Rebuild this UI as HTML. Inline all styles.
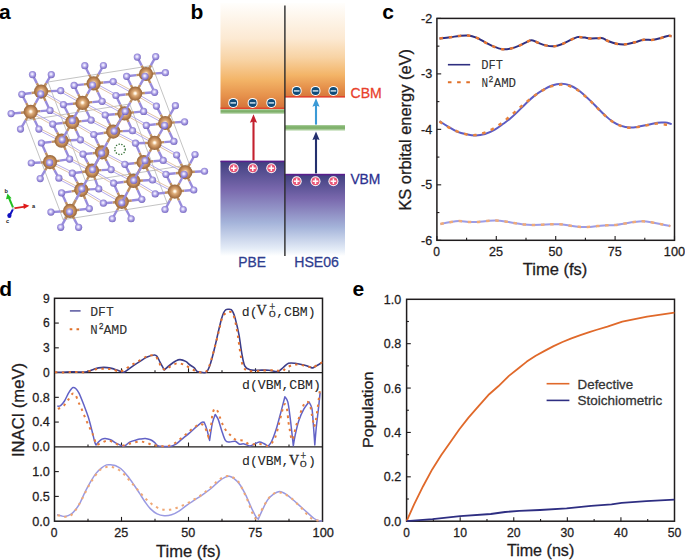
<!DOCTYPE html>
<html><head><meta charset="utf-8"><title>figure</title>
<style>html,body{margin:0;padding:0;background:#fff;width:685px;height:560px;overflow:hidden}svg{display:block}</style>
</head><body><svg width="685" height="560" viewBox="0 0 685 560">
<rect width="685" height="560" fill="#fff"/>
<defs><radialGradient id="gb" cx="0.5" cy="0.5" r="0.55" fx="0.5" fy="0.48"><stop offset="0" stop-color="#ffffff"/><stop offset="0.13" stop-color="#fff0da"/><stop offset="0.32" stop-color="#deae7c"/><stop offset="0.62" stop-color="#bd8654"/><stop offset="0.86" stop-color="#9c6a3e"/><stop offset="1" stop-color="#74502e"/></radialGradient><radialGradient id="gp" cx="0.46" cy="0.44" r="0.58"><stop offset="0" stop-color="#ffffff"/><stop offset="0.25" stop-color="#dcd6fb"/><stop offset="0.55" stop-color="#a89de2"/><stop offset="0.85" stop-color="#8476cc"/><stop offset="1" stop-color="#6a5ab4"/></radialGradient></defs>
<line x1="48.0" y1="82.0" x2="152.0" y2="65.5" stroke="#9a9a9a" stroke-width="0.6"/>
<line x1="25.7" y1="120.5" x2="129.7" y2="104.0" stroke="#9a9a9a" stroke-width="0.6"/>
<line x1="85.5" y1="181.2" x2="189.5" y2="164.7" stroke="#9a9a9a" stroke-width="0.6"/>
<line x1="63.2" y1="219.7" x2="167.2" y2="203.2" stroke="#9a9a9a" stroke-width="0.6"/>
<line x1="48.0" y1="82.0" x2="25.7" y2="120.5" stroke="#9a9a9a" stroke-width="0.6"/>
<line x1="152.0" y1="65.5" x2="129.7" y2="104.0" stroke="#9a9a9a" stroke-width="0.6"/>
<line x1="85.5" y1="181.2" x2="63.2" y2="219.7" stroke="#9a9a9a" stroke-width="0.6"/>
<line x1="189.5" y1="164.7" x2="167.2" y2="203.2" stroke="#9a9a9a" stroke-width="0.6"/>
<line x1="48.0" y1="82.0" x2="85.5" y2="181.2" stroke="#9a9a9a" stroke-width="0.6"/>
<line x1="152.0" y1="65.5" x2="189.5" y2="164.7" stroke="#9a9a9a" stroke-width="0.6"/>
<line x1="25.7" y1="120.5" x2="63.2" y2="219.7" stroke="#9a9a9a" stroke-width="0.6"/>
<line x1="129.7" y1="104.0" x2="167.2" y2="203.2" stroke="#9a9a9a" stroke-width="0.6"/>
<line x1="146.00" y1="74.00" x2="141.65" y2="65.55" stroke="#bd8e62" stroke-width="2.4"/>
<line x1="141.65" y1="65.55" x2="137.30" y2="57.10" stroke="#988cdc" stroke-width="2.4"/>
<line x1="146.00" y1="74.00" x2="150.85" y2="65.30" stroke="#bd8e62" stroke-width="2.4"/>
<line x1="150.85" y1="65.30" x2="155.70" y2="56.60" stroke="#988cdc" stroke-width="2.4"/>
<line x1="146.00" y1="74.00" x2="136.30" y2="75.15" stroke="#bd8e62" stroke-width="2.4"/>
<line x1="136.30" y1="75.15" x2="126.60" y2="76.30" stroke="#988cdc" stroke-width="2.4"/>
<line x1="146.00" y1="74.00" x2="155.70" y2="73.35" stroke="#bd8e62" stroke-width="2.4"/>
<line x1="155.70" y1="73.35" x2="165.40" y2="72.70" stroke="#988cdc" stroke-width="2.4"/>
<line x1="146.00" y1="74.00" x2="150.30" y2="83.15" stroke="#bd8e62" stroke-width="2.4"/>
<line x1="150.30" y1="83.15" x2="154.60" y2="92.30" stroke="#988cdc" stroke-width="2.4"/>
<line x1="93.60" y1="83.40" x2="89.20" y2="74.55" stroke="#bd8e62" stroke-width="2.4"/>
<line x1="89.20" y1="74.55" x2="84.80" y2="65.70" stroke="#988cdc" stroke-width="2.4"/>
<line x1="93.60" y1="83.40" x2="83.85" y2="84.40" stroke="#bd8e62" stroke-width="2.4"/>
<line x1="83.85" y1="84.40" x2="74.10" y2="85.40" stroke="#988cdc" stroke-width="2.4"/>
<line x1="93.60" y1="83.40" x2="98.50" y2="74.45" stroke="#bd8e62" stroke-width="2.4"/>
<line x1="98.50" y1="74.45" x2="103.40" y2="65.50" stroke="#988cdc" stroke-width="2.4"/>
<line x1="93.60" y1="83.40" x2="103.40" y2="82.50" stroke="#bd8e62" stroke-width="2.4"/>
<line x1="103.40" y1="82.50" x2="113.20" y2="81.60" stroke="#988cdc" stroke-width="2.4"/>
<line x1="94.05" y1="82.56" x2="116.35" y2="94.66" stroke="#ada2ea" stroke-width="0.9"/>
<line x1="93.15" y1="84.24" x2="115.45" y2="96.34" stroke="#dcbca0" stroke-width="0.9"/>
<line x1="93.60" y1="83.40" x2="97.85" y2="92.35" stroke="#bd8e62" stroke-width="2.4"/>
<line x1="97.85" y1="92.35" x2="102.10" y2="101.30" stroke="#988cdc" stroke-width="2.4"/>
<line x1="41.10" y1="91.60" x2="36.80" y2="83.10" stroke="#bd8e62" stroke-width="2.4"/>
<line x1="36.80" y1="83.10" x2="32.50" y2="74.60" stroke="#988cdc" stroke-width="2.4"/>
<line x1="41.10" y1="91.60" x2="46.20" y2="83.10" stroke="#bd8e62" stroke-width="2.4"/>
<line x1="46.20" y1="83.10" x2="51.30" y2="74.60" stroke="#988cdc" stroke-width="2.4"/>
<line x1="41.10" y1="91.60" x2="31.45" y2="92.95" stroke="#bd8e62" stroke-width="2.4"/>
<line x1="31.45" y1="92.95" x2="21.80" y2="94.30" stroke="#988cdc" stroke-width="2.4"/>
<line x1="41.10" y1="91.60" x2="50.90" y2="91.15" stroke="#bd8e62" stroke-width="2.4"/>
<line x1="50.90" y1="91.15" x2="60.70" y2="90.70" stroke="#988cdc" stroke-width="2.4"/>
<line x1="41.10" y1="91.60" x2="45.55" y2="101.00" stroke="#bd8e62" stroke-width="2.4"/>
<line x1="45.55" y1="101.00" x2="50.00" y2="110.40" stroke="#988cdc" stroke-width="2.4"/>
<line x1="41.58" y1="90.78" x2="63.88" y2="103.78" stroke="#ada2ea" stroke-width="0.9"/>
<line x1="40.62" y1="92.42" x2="62.92" y2="105.42" stroke="#dcbca0" stroke-width="0.9"/>
<line x1="135.20" y1="93.60" x2="130.90" y2="84.95" stroke="#bd8e62" stroke-width="2.4"/>
<line x1="130.90" y1="84.95" x2="126.60" y2="76.30" stroke="#988cdc" stroke-width="2.4"/>
<line x1="135.20" y1="93.60" x2="140.10" y2="84.95" stroke="#bd8e62" stroke-width="2.4"/>
<line x1="134.75" y1="94.43" x2="112.75" y2="82.43" stroke="#ada2ea" stroke-width="0.9"/>
<line x1="135.65" y1="92.77" x2="113.65" y2="80.77" stroke="#dcbca0" stroke-width="0.9"/>
<line x1="135.20" y1="93.60" x2="125.55" y2="94.55" stroke="#bd8e62" stroke-width="2.4"/>
<line x1="125.55" y1="94.55" x2="115.90" y2="95.50" stroke="#988cdc" stroke-width="2.4"/>
<line x1="135.20" y1="93.60" x2="144.90" y2="92.95" stroke="#bd8e62" stroke-width="2.4"/>
<line x1="144.90" y1="92.95" x2="154.60" y2="92.30" stroke="#988cdc" stroke-width="2.4"/>
<line x1="135.68" y1="92.78" x2="156.88" y2="105.28" stroke="#ada2ea" stroke-width="0.9"/>
<line x1="134.72" y1="94.42" x2="155.92" y2="106.92" stroke="#dcbca0" stroke-width="0.9"/>
<line x1="135.20" y1="93.60" x2="139.40" y2="102.50" stroke="#bd8e62" stroke-width="2.4"/>
<line x1="139.40" y1="102.50" x2="143.60" y2="111.40" stroke="#988cdc" stroke-width="2.4"/>
<line x1="135.20" y1="93.60" x2="130.20" y2="102.50" stroke="#bd8e62" stroke-width="2.4"/>
<line x1="82.04" y1="103.73" x2="60.24" y2="91.53" stroke="#ada2ea" stroke-width="0.9"/>
<line x1="82.96" y1="102.07" x2="61.16" y2="89.87" stroke="#dcbca0" stroke-width="0.9"/>
<line x1="82.50" y1="102.90" x2="77.40" y2="111.80" stroke="#bd8e62" stroke-width="2.4"/>
<line x1="82.50" y1="102.90" x2="78.30" y2="94.15" stroke="#bd8e62" stroke-width="2.4"/>
<line x1="78.30" y1="94.15" x2="74.10" y2="85.40" stroke="#988cdc" stroke-width="2.4"/>
<line x1="82.50" y1="102.90" x2="87.50" y2="93.95" stroke="#bd8e62" stroke-width="2.4"/>
<line x1="82.50" y1="102.90" x2="72.95" y2="103.75" stroke="#bd8e62" stroke-width="2.4"/>
<line x1="72.95" y1="103.75" x2="63.40" y2="104.60" stroke="#988cdc" stroke-width="2.4"/>
<line x1="82.50" y1="102.90" x2="86.80" y2="111.55" stroke="#bd8e62" stroke-width="2.4"/>
<line x1="86.80" y1="111.55" x2="91.10" y2="120.20" stroke="#988cdc" stroke-width="2.4"/>
<line x1="82.50" y1="102.90" x2="92.30" y2="102.10" stroke="#bd8e62" stroke-width="2.4"/>
<line x1="92.30" y1="102.10" x2="102.10" y2="101.30" stroke="#988cdc" stroke-width="2.4"/>
<line x1="82.95" y1="102.06" x2="105.65" y2="114.16" stroke="#ada2ea" stroke-width="0.9"/>
<line x1="82.05" y1="103.74" x2="104.75" y2="115.84" stroke="#dcbca0" stroke-width="0.9"/>
<line x1="30.70" y1="111.80" x2="26.25" y2="103.05" stroke="#bd8e62" stroke-width="2.4"/>
<line x1="26.25" y1="103.05" x2="21.80" y2="94.30" stroke="#988cdc" stroke-width="2.4"/>
<line x1="30.70" y1="111.80" x2="35.70" y2="102.85" stroke="#bd8e62" stroke-width="2.4"/>
<line x1="30.70" y1="111.80" x2="20.90" y2="112.70" stroke="#bd8e62" stroke-width="2.4"/>
<line x1="20.90" y1="112.70" x2="11.10" y2="113.60" stroke="#988cdc" stroke-width="2.4"/>
<line x1="30.70" y1="111.80" x2="40.35" y2="111.10" stroke="#bd8e62" stroke-width="2.4"/>
<line x1="40.35" y1="111.10" x2="50.00" y2="110.40" stroke="#988cdc" stroke-width="2.4"/>
<line x1="30.70" y1="111.80" x2="25.60" y2="120.45" stroke="#bd8e62" stroke-width="2.4"/>
<line x1="25.60" y1="120.45" x2="20.50" y2="129.10" stroke="#988cdc" stroke-width="2.4"/>
<line x1="30.70" y1="111.80" x2="34.80" y2="120.45" stroke="#bd8e62" stroke-width="2.4"/>
<line x1="34.80" y1="120.45" x2="38.90" y2="129.10" stroke="#988cdc" stroke-width="2.4"/>
<line x1="31.16" y1="110.97" x2="53.16" y2="123.27" stroke="#ada2ea" stroke-width="0.9"/>
<line x1="30.24" y1="112.63" x2="52.24" y2="124.93" stroke="#dcbca0" stroke-width="0.9"/>
<line x1="124.50" y1="113.40" x2="120.20" y2="104.45" stroke="#bd8e62" stroke-width="2.4"/>
<line x1="120.20" y1="104.45" x2="115.90" y2="95.50" stroke="#988cdc" stroke-width="2.4"/>
<line x1="124.05" y1="114.24" x2="101.65" y2="102.14" stroke="#ada2ea" stroke-width="0.9"/>
<line x1="124.95" y1="112.56" x2="102.55" y2="100.46" stroke="#dcbca0" stroke-width="0.9"/>
<line x1="124.50" y1="113.40" x2="134.05" y2="112.40" stroke="#bd8e62" stroke-width="2.4"/>
<line x1="134.05" y1="112.40" x2="143.60" y2="111.40" stroke="#988cdc" stroke-width="2.4"/>
<line x1="124.50" y1="113.40" x2="114.85" y2="114.20" stroke="#bd8e62" stroke-width="2.4"/>
<line x1="114.85" y1="114.20" x2="105.20" y2="115.00" stroke="#988cdc" stroke-width="2.4"/>
<line x1="124.96" y1="112.57" x2="146.76" y2="124.57" stroke="#ada2ea" stroke-width="0.9"/>
<line x1="124.04" y1="114.23" x2="145.84" y2="126.23" stroke="#dcbca0" stroke-width="0.9"/>
<line x1="124.50" y1="113.40" x2="128.50" y2="122.05" stroke="#bd8e62" stroke-width="2.4"/>
<line x1="128.50" y1="122.05" x2="132.50" y2="130.70" stroke="#988cdc" stroke-width="2.4"/>
<line x1="124.50" y1="113.40" x2="119.30" y2="122.25" stroke="#bd8e62" stroke-width="2.4"/>
<line x1="71.86" y1="122.84" x2="49.56" y2="111.24" stroke="#ada2ea" stroke-width="0.9"/>
<line x1="72.74" y1="121.16" x2="50.44" y2="109.56" stroke="#dcbca0" stroke-width="0.9"/>
<line x1="72.30" y1="122.00" x2="62.50" y2="123.05" stroke="#bd8e62" stroke-width="2.4"/>
<line x1="62.50" y1="123.05" x2="52.70" y2="124.10" stroke="#988cdc" stroke-width="2.4"/>
<line x1="72.30" y1="122.00" x2="67.85" y2="113.30" stroke="#bd8e62" stroke-width="2.4"/>
<line x1="67.85" y1="113.30" x2="63.40" y2="104.60" stroke="#988cdc" stroke-width="2.4"/>
<line x1="72.30" y1="122.00" x2="81.70" y2="121.10" stroke="#bd8e62" stroke-width="2.4"/>
<line x1="81.70" y1="121.10" x2="91.10" y2="120.20" stroke="#988cdc" stroke-width="2.4"/>
<line x1="72.30" y1="122.00" x2="67.20" y2="130.90" stroke="#bd8e62" stroke-width="2.4"/>
<line x1="72.30" y1="122.00" x2="76.35" y2="130.90" stroke="#bd8e62" stroke-width="2.4"/>
<line x1="76.35" y1="130.90" x2="80.40" y2="139.80" stroke="#988cdc" stroke-width="2.4"/>
<line x1="72.78" y1="121.18" x2="94.23" y2="133.68" stroke="#ada2ea" stroke-width="0.9"/>
<line x1="71.82" y1="122.82" x2="93.27" y2="135.32" stroke="#dcbca0" stroke-width="0.9"/>
<line x1="165.20" y1="123.00" x2="160.80" y2="114.55" stroke="#bd8e62" stroke-width="2.4"/>
<line x1="160.80" y1="114.55" x2="156.40" y2="106.10" stroke="#988cdc" stroke-width="2.4"/>
<line x1="164.75" y1="123.84" x2="143.15" y2="112.24" stroke="#ada2ea" stroke-width="0.9"/>
<line x1="165.65" y1="122.16" x2="144.05" y2="110.56" stroke="#dcbca0" stroke-width="0.9"/>
<line x1="165.20" y1="123.00" x2="170.30" y2="114.35" stroke="#bd8e62" stroke-width="2.4"/>
<line x1="170.30" y1="114.35" x2="175.40" y2="105.70" stroke="#988cdc" stroke-width="2.4"/>
<line x1="165.20" y1="123.00" x2="155.75" y2="124.20" stroke="#bd8e62" stroke-width="2.4"/>
<line x1="155.75" y1="124.20" x2="146.30" y2="125.40" stroke="#988cdc" stroke-width="2.4"/>
<line x1="165.20" y1="123.00" x2="174.90" y2="122.40" stroke="#bd8e62" stroke-width="2.4"/>
<line x1="174.90" y1="122.40" x2="184.60" y2="121.80" stroke="#988cdc" stroke-width="2.4"/>
<line x1="165.20" y1="123.00" x2="169.55" y2="132.20" stroke="#bd8e62" stroke-width="2.4"/>
<line x1="169.55" y1="132.20" x2="173.90" y2="141.40" stroke="#988cdc" stroke-width="2.4"/>
<line x1="112.76" y1="132.44" x2="90.66" y2="121.04" stroke="#ada2ea" stroke-width="0.9"/>
<line x1="113.64" y1="130.76" x2="91.54" y2="119.36" stroke="#dcbca0" stroke-width="0.9"/>
<line x1="113.20" y1="131.60" x2="103.47" y2="133.05" stroke="#bd8e62" stroke-width="2.4"/>
<line x1="103.47" y1="133.05" x2="93.75" y2="134.50" stroke="#988cdc" stroke-width="2.4"/>
<line x1="113.20" y1="131.60" x2="119.20" y2="121.50" stroke="#bd8e62" stroke-width="2.4"/>
<line x1="113.20" y1="131.60" x2="109.20" y2="123.30" stroke="#bd8e62" stroke-width="2.4"/>
<line x1="109.20" y1="123.30" x2="105.20" y2="115.00" stroke="#988cdc" stroke-width="2.4"/>
<line x1="113.20" y1="131.60" x2="122.85" y2="131.15" stroke="#bd8e62" stroke-width="2.4"/>
<line x1="122.85" y1="131.15" x2="132.50" y2="130.70" stroke="#988cdc" stroke-width="2.4"/>
<line x1="113.64" y1="130.76" x2="135.94" y2="142.36" stroke="#ada2ea" stroke-width="0.9"/>
<line x1="112.76" y1="132.44" x2="135.06" y2="144.04" stroke="#dcbca0" stroke-width="0.9"/>
<line x1="113.20" y1="131.60" x2="107.40" y2="142.40" stroke="#bd8e62" stroke-width="2.4"/>
<line x1="61.17" y1="141.55" x2="38.47" y2="129.95" stroke="#ada2ea" stroke-width="0.9"/>
<line x1="62.03" y1="139.85" x2="39.33" y2="128.25" stroke="#dcbca0" stroke-width="0.9"/>
<line x1="61.60" y1="140.70" x2="57.15" y2="132.40" stroke="#bd8e62" stroke-width="2.4"/>
<line x1="57.15" y1="132.40" x2="52.70" y2="124.10" stroke="#988cdc" stroke-width="2.4"/>
<line x1="61.60" y1="140.70" x2="51.50" y2="141.85" stroke="#bd8e62" stroke-width="2.4"/>
<line x1="51.50" y1="141.85" x2="41.40" y2="143.00" stroke="#988cdc" stroke-width="2.4"/>
<line x1="61.60" y1="140.70" x2="71.00" y2="140.25" stroke="#bd8e62" stroke-width="2.4"/>
<line x1="71.00" y1="140.25" x2="80.40" y2="139.80" stroke="#988cdc" stroke-width="2.4"/>
<line x1="61.60" y1="140.70" x2="65.60" y2="149.90" stroke="#bd8e62" stroke-width="2.4"/>
<line x1="65.60" y1="149.90" x2="69.60" y2="159.10" stroke="#988cdc" stroke-width="2.4"/>
<line x1="62.10" y1="139.89" x2="83.50" y2="153.29" stroke="#ada2ea" stroke-width="0.9"/>
<line x1="61.10" y1="141.51" x2="82.50" y2="154.91" stroke="#dcbca0" stroke-width="0.9"/>
<line x1="154.60" y1="142.90" x2="150.45" y2="134.15" stroke="#bd8e62" stroke-width="2.4"/>
<line x1="150.45" y1="134.15" x2="146.30" y2="125.40" stroke="#988cdc" stroke-width="2.4"/>
<line x1="154.60" y1="142.90" x2="159.60" y2="134.15" stroke="#bd8e62" stroke-width="2.4"/>
<line x1="154.14" y1="143.73" x2="132.04" y2="131.53" stroke="#ada2ea" stroke-width="0.9"/>
<line x1="155.06" y1="142.07" x2="132.96" y2="129.87" stroke="#dcbca0" stroke-width="0.9"/>
<line x1="154.60" y1="142.90" x2="164.25" y2="142.15" stroke="#bd8e62" stroke-width="2.4"/>
<line x1="164.25" y1="142.15" x2="173.90" y2="141.40" stroke="#988cdc" stroke-width="2.4"/>
<line x1="154.60" y1="142.90" x2="145.05" y2="143.05" stroke="#bd8e62" stroke-width="2.4"/>
<line x1="145.05" y1="143.05" x2="135.50" y2="143.20" stroke="#988cdc" stroke-width="2.4"/>
<line x1="154.60" y1="142.90" x2="149.80" y2="151.80" stroke="#bd8e62" stroke-width="2.4"/>
<line x1="154.60" y1="142.90" x2="158.90" y2="151.65" stroke="#bd8e62" stroke-width="2.4"/>
<line x1="158.90" y1="151.65" x2="163.20" y2="160.40" stroke="#988cdc" stroke-width="2.4"/>
<line x1="155.06" y1="142.07" x2="177.06" y2="154.17" stroke="#ada2ea" stroke-width="0.9"/>
<line x1="154.14" y1="143.73" x2="176.14" y2="155.83" stroke="#dcbca0" stroke-width="0.9"/>
<line x1="101.63" y1="153.12" x2="79.93" y2="140.62" stroke="#ada2ea" stroke-width="0.9"/>
<line x1="102.57" y1="151.48" x2="80.87" y2="138.98" stroke="#dcbca0" stroke-width="0.9"/>
<line x1="102.10" y1="152.30" x2="97.92" y2="143.40" stroke="#bd8e62" stroke-width="2.4"/>
<line x1="97.92" y1="143.40" x2="93.75" y2="134.50" stroke="#988cdc" stroke-width="2.4"/>
<line x1="102.10" y1="152.30" x2="92.55" y2="153.20" stroke="#bd8e62" stroke-width="2.4"/>
<line x1="92.55" y1="153.20" x2="83.00" y2="154.10" stroke="#988cdc" stroke-width="2.4"/>
<line x1="102.10" y1="152.30" x2="97.30" y2="160.95" stroke="#bd8e62" stroke-width="2.4"/>
<line x1="102.54" y1="151.46" x2="125.24" y2="163.46" stroke="#ada2ea" stroke-width="0.9"/>
<line x1="101.66" y1="153.14" x2="124.36" y2="165.14" stroke="#dcbca0" stroke-width="0.9"/>
<line x1="102.10" y1="152.30" x2="106.60" y2="160.95" stroke="#bd8e62" stroke-width="2.4"/>
<line x1="106.60" y1="160.95" x2="111.10" y2="169.60" stroke="#988cdc" stroke-width="2.4"/>
<line x1="50.00" y1="162.10" x2="45.70" y2="152.55" stroke="#bd8e62" stroke-width="2.4"/>
<line x1="45.70" y1="152.55" x2="41.40" y2="143.00" stroke="#988cdc" stroke-width="2.4"/>
<line x1="50.00" y1="162.10" x2="40.62" y2="162.55" stroke="#bd8e62" stroke-width="2.4"/>
<line x1="40.62" y1="162.55" x2="31.25" y2="163.00" stroke="#988cdc" stroke-width="2.4"/>
<line x1="50.00" y1="162.10" x2="59.80" y2="160.60" stroke="#bd8e62" stroke-width="2.4"/>
<line x1="59.80" y1="160.60" x2="69.60" y2="159.10" stroke="#988cdc" stroke-width="2.4"/>
<line x1="50.00" y1="162.10" x2="45.10" y2="170.35" stroke="#bd8e62" stroke-width="2.4"/>
<line x1="45.10" y1="170.35" x2="40.20" y2="178.60" stroke="#988cdc" stroke-width="2.4"/>
<line x1="50.00" y1="162.10" x2="54.45" y2="170.15" stroke="#bd8e62" stroke-width="2.4"/>
<line x1="54.45" y1="170.15" x2="58.90" y2="178.20" stroke="#988cdc" stroke-width="2.4"/>
<line x1="50.42" y1="161.25" x2="72.72" y2="172.35" stroke="#ada2ea" stroke-width="0.9"/>
<line x1="49.58" y1="162.95" x2="71.88" y2="174.05" stroke="#dcbca0" stroke-width="0.9"/>
<line x1="143.60" y1="162.10" x2="139.55" y2="152.65" stroke="#bd8e62" stroke-width="2.4"/>
<line x1="139.55" y1="152.65" x2="135.50" y2="143.20" stroke="#988cdc" stroke-width="2.4"/>
<line x1="143.60" y1="162.10" x2="134.20" y2="163.20" stroke="#bd8e62" stroke-width="2.4"/>
<line x1="134.20" y1="163.20" x2="124.80" y2="164.30" stroke="#988cdc" stroke-width="2.4"/>
<line x1="143.60" y1="162.10" x2="153.40" y2="161.25" stroke="#bd8e62" stroke-width="2.4"/>
<line x1="153.40" y1="161.25" x2="163.20" y2="160.40" stroke="#988cdc" stroke-width="2.4"/>
<line x1="143.60" y1="162.10" x2="138.68" y2="171.25" stroke="#bd8e62" stroke-width="2.4"/>
<line x1="143.60" y1="162.10" x2="148.05" y2="171.05" stroke="#bd8e62" stroke-width="2.4"/>
<line x1="148.05" y1="171.05" x2="152.50" y2="180.00" stroke="#988cdc" stroke-width="2.4"/>
<line x1="144.06" y1="161.27" x2="166.36" y2="173.47" stroke="#ada2ea" stroke-width="0.9"/>
<line x1="143.14" y1="162.93" x2="165.44" y2="175.13" stroke="#dcbca0" stroke-width="0.9"/>
<line x1="91.56" y1="171.54" x2="69.16" y2="159.94" stroke="#ada2ea" stroke-width="0.9"/>
<line x1="92.44" y1="169.86" x2="70.04" y2="158.26" stroke="#dcbca0" stroke-width="0.9"/>
<line x1="92.00" y1="170.70" x2="87.50" y2="162.40" stroke="#bd8e62" stroke-width="2.4"/>
<line x1="87.50" y1="162.40" x2="83.00" y2="154.10" stroke="#988cdc" stroke-width="2.4"/>
<line x1="92.00" y1="170.70" x2="82.15" y2="171.95" stroke="#bd8e62" stroke-width="2.4"/>
<line x1="82.15" y1="171.95" x2="72.30" y2="173.20" stroke="#988cdc" stroke-width="2.4"/>
<line x1="92.00" y1="170.70" x2="86.90" y2="179.80" stroke="#bd8e62" stroke-width="2.4"/>
<line x1="92.00" y1="170.70" x2="95.38" y2="179.80" stroke="#bd8e62" stroke-width="2.4"/>
<line x1="95.38" y1="179.80" x2="98.75" y2="188.90" stroke="#988cdc" stroke-width="2.4"/>
<line x1="92.00" y1="170.70" x2="96.80" y2="161.95" stroke="#bd8e62" stroke-width="2.4"/>
<line x1="92.00" y1="170.70" x2="101.55" y2="170.15" stroke="#bd8e62" stroke-width="2.4"/>
<line x1="101.55" y1="170.15" x2="111.10" y2="169.60" stroke="#988cdc" stroke-width="2.4"/>
<line x1="92.48" y1="169.88" x2="114.08" y2="182.38" stroke="#ada2ea" stroke-width="0.9"/>
<line x1="91.52" y1="171.52" x2="113.12" y2="184.02" stroke="#dcbca0" stroke-width="0.9"/>
<line x1="184.85" y1="173.14" x2="162.75" y2="161.24" stroke="#ada2ea" stroke-width="0.9"/>
<line x1="185.75" y1="171.46" x2="163.65" y2="159.56" stroke="#dcbca0" stroke-width="0.9"/>
<line x1="185.30" y1="172.30" x2="180.95" y2="163.65" stroke="#bd8e62" stroke-width="2.4"/>
<line x1="180.95" y1="163.65" x2="176.60" y2="155.00" stroke="#988cdc" stroke-width="2.4"/>
<line x1="185.30" y1="172.30" x2="175.60" y2="173.30" stroke="#bd8e62" stroke-width="2.4"/>
<line x1="175.60" y1="173.30" x2="165.90" y2="174.30" stroke="#988cdc" stroke-width="2.4"/>
<line x1="185.30" y1="172.30" x2="190.15" y2="163.40" stroke="#bd8e62" stroke-width="2.4"/>
<line x1="190.15" y1="163.40" x2="195.00" y2="154.50" stroke="#988cdc" stroke-width="2.4"/>
<line x1="185.30" y1="172.30" x2="194.90" y2="171.78" stroke="#bd8e62" stroke-width="2.4"/>
<line x1="194.90" y1="171.78" x2="204.50" y2="171.25" stroke="#988cdc" stroke-width="2.4"/>
<line x1="185.30" y1="172.30" x2="189.53" y2="181.15" stroke="#bd8e62" stroke-width="2.4"/>
<line x1="189.53" y1="181.15" x2="193.75" y2="190.00" stroke="#988cdc" stroke-width="2.4"/>
<line x1="133.40" y1="180.90" x2="129.10" y2="172.60" stroke="#bd8e62" stroke-width="2.4"/>
<line x1="129.10" y1="172.60" x2="124.80" y2="164.30" stroke="#988cdc" stroke-width="2.4"/>
<line x1="132.97" y1="181.75" x2="110.67" y2="170.45" stroke="#ada2ea" stroke-width="0.9"/>
<line x1="133.83" y1="180.05" x2="111.53" y2="168.75" stroke="#dcbca0" stroke-width="0.9"/>
<line x1="133.40" y1="180.90" x2="139.20" y2="170.80" stroke="#bd8e62" stroke-width="2.4"/>
<line x1="133.40" y1="180.90" x2="123.50" y2="182.05" stroke="#bd8e62" stroke-width="2.4"/>
<line x1="123.50" y1="182.05" x2="113.60" y2="183.20" stroke="#988cdc" stroke-width="2.4"/>
<line x1="133.40" y1="180.90" x2="142.95" y2="180.45" stroke="#bd8e62" stroke-width="2.4"/>
<line x1="142.95" y1="180.45" x2="152.50" y2="180.00" stroke="#988cdc" stroke-width="2.4"/>
<line x1="133.40" y1="180.90" x2="127.60" y2="191.90" stroke="#bd8e62" stroke-width="2.4"/>
<line x1="133.40" y1="180.90" x2="137.60" y2="190.10" stroke="#bd8e62" stroke-width="2.4"/>
<line x1="137.60" y1="190.10" x2="141.80" y2="199.30" stroke="#988cdc" stroke-width="2.4"/>
<line x1="133.89" y1="180.08" x2="155.69" y2="193.08" stroke="#ada2ea" stroke-width="0.9"/>
<line x1="132.91" y1="181.72" x2="154.71" y2="194.72" stroke="#dcbca0" stroke-width="0.9"/>
<line x1="80.86" y1="190.64" x2="58.46" y2="179.04" stroke="#ada2ea" stroke-width="0.9"/>
<line x1="81.74" y1="188.96" x2="59.34" y2="177.36" stroke="#dcbca0" stroke-width="0.9"/>
<line x1="81.30" y1="189.80" x2="76.80" y2="181.50" stroke="#bd8e62" stroke-width="2.4"/>
<line x1="76.80" y1="181.50" x2="72.30" y2="173.20" stroke="#988cdc" stroke-width="2.4"/>
<line x1="81.30" y1="189.80" x2="71.45" y2="191.35" stroke="#bd8e62" stroke-width="2.4"/>
<line x1="71.45" y1="191.35" x2="61.60" y2="192.90" stroke="#988cdc" stroke-width="2.4"/>
<line x1="81.30" y1="189.80" x2="90.03" y2="189.35" stroke="#bd8e62" stroke-width="2.4"/>
<line x1="90.03" y1="189.35" x2="98.75" y2="188.90" stroke="#988cdc" stroke-width="2.4"/>
<line x1="81.30" y1="189.80" x2="85.30" y2="199.20" stroke="#bd8e62" stroke-width="2.4"/>
<line x1="85.30" y1="199.20" x2="89.30" y2="208.60" stroke="#988cdc" stroke-width="2.4"/>
<line x1="81.79" y1="188.99" x2="103.89" y2="202.39" stroke="#ada2ea" stroke-width="0.9"/>
<line x1="80.81" y1="190.61" x2="102.91" y2="204.01" stroke="#dcbca0" stroke-width="0.9"/>
<line x1="174.36" y1="192.44" x2="152.06" y2="180.84" stroke="#ada2ea" stroke-width="0.9"/>
<line x1="175.24" y1="190.76" x2="152.94" y2="179.16" stroke="#dcbca0" stroke-width="0.9"/>
<line x1="174.80" y1="191.60" x2="170.35" y2="182.95" stroke="#bd8e62" stroke-width="2.4"/>
<line x1="170.35" y1="182.95" x2="165.90" y2="174.30" stroke="#988cdc" stroke-width="2.4"/>
<line x1="174.80" y1="191.60" x2="179.45" y2="182.95" stroke="#bd8e62" stroke-width="2.4"/>
<line x1="174.80" y1="191.60" x2="165.00" y2="192.75" stroke="#bd8e62" stroke-width="2.4"/>
<line x1="165.00" y1="192.75" x2="155.20" y2="193.90" stroke="#988cdc" stroke-width="2.4"/>
<line x1="174.80" y1="191.60" x2="169.90" y2="200.55" stroke="#bd8e62" stroke-width="2.4"/>
<line x1="169.90" y1="200.55" x2="165.00" y2="209.50" stroke="#988cdc" stroke-width="2.4"/>
<line x1="174.80" y1="191.60" x2="179.00" y2="200.55" stroke="#bd8e62" stroke-width="2.4"/>
<line x1="179.00" y1="200.55" x2="183.20" y2="209.50" stroke="#988cdc" stroke-width="2.4"/>
<line x1="174.80" y1="191.60" x2="184.28" y2="190.80" stroke="#bd8e62" stroke-width="2.4"/>
<line x1="184.28" y1="190.80" x2="193.75" y2="190.00" stroke="#988cdc" stroke-width="2.4"/>
<line x1="121.34" y1="202.63" x2="98.29" y2="189.73" stroke="#ada2ea" stroke-width="0.9"/>
<line x1="122.26" y1="200.97" x2="99.21" y2="188.07" stroke="#dcbca0" stroke-width="0.9"/>
<line x1="121.80" y1="201.80" x2="117.70" y2="192.50" stroke="#bd8e62" stroke-width="2.4"/>
<line x1="117.70" y1="192.50" x2="113.60" y2="183.20" stroke="#988cdc" stroke-width="2.4"/>
<line x1="121.80" y1="201.80" x2="112.60" y2="202.50" stroke="#bd8e62" stroke-width="2.4"/>
<line x1="112.60" y1="202.50" x2="103.40" y2="203.20" stroke="#988cdc" stroke-width="2.4"/>
<line x1="121.80" y1="201.80" x2="131.80" y2="200.55" stroke="#bd8e62" stroke-width="2.4"/>
<line x1="131.80" y1="200.55" x2="141.80" y2="199.30" stroke="#988cdc" stroke-width="2.4"/>
<line x1="121.80" y1="201.80" x2="117.05" y2="210.28" stroke="#bd8e62" stroke-width="2.4"/>
<line x1="117.05" y1="210.28" x2="112.30" y2="218.75" stroke="#988cdc" stroke-width="2.4"/>
<line x1="121.80" y1="201.80" x2="126.45" y2="210.28" stroke="#bd8e62" stroke-width="2.4"/>
<line x1="126.45" y1="210.28" x2="131.10" y2="218.75" stroke="#988cdc" stroke-width="2.4"/>
<line x1="70.00" y1="210.90" x2="65.80" y2="201.90" stroke="#bd8e62" stroke-width="2.4"/>
<line x1="65.80" y1="201.90" x2="61.60" y2="192.90" stroke="#988cdc" stroke-width="2.4"/>
<line x1="70.00" y1="210.90" x2="75.90" y2="199.90" stroke="#bd8e62" stroke-width="2.4"/>
<line x1="70.00" y1="210.90" x2="60.45" y2="211.50" stroke="#bd8e62" stroke-width="2.4"/>
<line x1="60.45" y1="211.50" x2="50.90" y2="212.10" stroke="#988cdc" stroke-width="2.4"/>
<line x1="70.00" y1="210.90" x2="79.65" y2="209.75" stroke="#bd8e62" stroke-width="2.4"/>
<line x1="79.65" y1="209.75" x2="89.30" y2="208.60" stroke="#988cdc" stroke-width="2.4"/>
<line x1="70.00" y1="210.90" x2="65.35" y2="219.10" stroke="#bd8e62" stroke-width="2.4"/>
<line x1="65.35" y1="219.10" x2="60.70" y2="227.30" stroke="#988cdc" stroke-width="2.4"/>
<line x1="70.00" y1="210.90" x2="74.30" y2="219.10" stroke="#bd8e62" stroke-width="2.4"/>
<line x1="74.30" y1="219.10" x2="78.60" y2="227.30" stroke="#988cdc" stroke-width="2.4"/>
<circle cx="32.50" cy="74.60" r="3.6" fill="url(#gp)"/>
<circle cx="51.30" cy="74.60" r="3.6" fill="url(#gp)"/>
<circle cx="21.80" cy="94.30" r="3.6" fill="url(#gp)"/>
<circle cx="60.70" cy="90.70" r="3.6" fill="url(#gp)"/>
<circle cx="11.10" cy="113.60" r="3.6" fill="url(#gp)"/>
<circle cx="50.00" cy="110.40" r="3.6" fill="url(#gp)"/>
<circle cx="20.50" cy="129.10" r="3.6" fill="url(#gp)"/>
<circle cx="38.90" cy="129.10" r="3.6" fill="url(#gp)"/>
<circle cx="52.70" cy="124.10" r="3.6" fill="url(#gp)"/>
<circle cx="84.80" cy="65.70" r="3.6" fill="url(#gp)"/>
<circle cx="74.10" cy="85.40" r="3.6" fill="url(#gp)"/>
<circle cx="63.40" cy="104.60" r="3.6" fill="url(#gp)"/>
<circle cx="91.10" cy="120.20" r="3.6" fill="url(#gp)"/>
<circle cx="41.40" cy="143.00" r="3.6" fill="url(#gp)"/>
<circle cx="80.40" cy="139.80" r="3.6" fill="url(#gp)"/>
<circle cx="93.75" cy="134.50" r="3.6" fill="url(#gp)"/>
<circle cx="103.40" cy="65.50" r="3.6" fill="url(#gp)"/>
<circle cx="137.30" cy="57.10" r="3.6" fill="url(#gp)"/>
<circle cx="155.70" cy="56.60" r="3.6" fill="url(#gp)"/>
<circle cx="126.60" cy="76.30" r="3.6" fill="url(#gp)"/>
<circle cx="165.40" cy="72.70" r="3.6" fill="url(#gp)"/>
<circle cx="113.20" cy="81.60" r="3.6" fill="url(#gp)"/>
<circle cx="115.90" cy="95.50" r="3.6" fill="url(#gp)"/>
<circle cx="154.60" cy="92.30" r="3.6" fill="url(#gp)"/>
<circle cx="102.10" cy="101.30" r="3.6" fill="url(#gp)"/>
<circle cx="156.40" cy="106.10" r="3.6" fill="url(#gp)"/>
<circle cx="143.60" cy="111.40" r="3.6" fill="url(#gp)"/>
<circle cx="105.20" cy="115.00" r="3.6" fill="url(#gp)"/>
<circle cx="175.40" cy="105.70" r="3.6" fill="url(#gp)"/>
<circle cx="146.30" cy="125.40" r="3.6" fill="url(#gp)"/>
<circle cx="184.60" cy="121.80" r="3.6" fill="url(#gp)"/>
<circle cx="132.50" cy="130.70" r="3.6" fill="url(#gp)"/>
<circle cx="173.90" cy="141.40" r="3.6" fill="url(#gp)"/>
<circle cx="135.50" cy="143.20" r="3.6" fill="url(#gp)"/>
<circle cx="31.25" cy="163.00" r="3.6" fill="url(#gp)"/>
<circle cx="69.60" cy="159.10" r="3.6" fill="url(#gp)"/>
<circle cx="83.00" cy="154.10" r="3.6" fill="url(#gp)"/>
<circle cx="40.20" cy="178.60" r="3.6" fill="url(#gp)"/>
<circle cx="58.90" cy="178.20" r="3.6" fill="url(#gp)"/>
<circle cx="72.30" cy="173.20" r="3.6" fill="url(#gp)"/>
<circle cx="61.60" cy="192.90" r="3.6" fill="url(#gp)"/>
<circle cx="98.75" cy="188.90" r="3.6" fill="url(#gp)"/>
<circle cx="50.90" cy="212.10" r="3.6" fill="url(#gp)"/>
<circle cx="89.30" cy="208.60" r="3.6" fill="url(#gp)"/>
<circle cx="60.70" cy="227.30" r="3.6" fill="url(#gp)"/>
<circle cx="78.60" cy="227.30" r="3.6" fill="url(#gp)"/>
<circle cx="124.80" cy="164.30" r="3.6" fill="url(#gp)"/>
<circle cx="111.10" cy="169.60" r="3.6" fill="url(#gp)"/>
<circle cx="163.20" cy="160.40" r="3.6" fill="url(#gp)"/>
<circle cx="176.60" cy="155.00" r="3.6" fill="url(#gp)"/>
<circle cx="113.60" cy="183.20" r="3.6" fill="url(#gp)"/>
<circle cx="152.50" cy="180.00" r="3.6" fill="url(#gp)"/>
<circle cx="165.90" cy="174.30" r="3.6" fill="url(#gp)"/>
<circle cx="103.40" cy="203.20" r="3.6" fill="url(#gp)"/>
<circle cx="141.80" cy="199.30" r="3.6" fill="url(#gp)"/>
<circle cx="155.20" cy="193.90" r="3.6" fill="url(#gp)"/>
<circle cx="165.00" cy="209.50" r="3.6" fill="url(#gp)"/>
<circle cx="183.20" cy="209.50" r="3.6" fill="url(#gp)"/>
<circle cx="112.30" cy="218.75" r="3.6" fill="url(#gp)"/>
<circle cx="131.10" cy="218.75" r="3.6" fill="url(#gp)"/>
<circle cx="195.00" cy="154.50" r="3.6" fill="url(#gp)"/>
<circle cx="204.50" cy="171.25" r="3.6" fill="url(#gp)"/>
<circle cx="193.75" cy="190.00" r="3.6" fill="url(#gp)"/>
<circle cx="146.00" cy="74.00" r="7.1" fill="url(#gb)"/>
<circle cx="93.60" cy="83.40" r="7.1" fill="url(#gb)"/>
<circle cx="41.10" cy="91.60" r="7.1" fill="url(#gb)"/>
<circle cx="135.20" cy="93.60" r="7.1" fill="url(#gb)"/>
<circle cx="82.50" cy="102.90" r="7.1" fill="url(#gb)"/>
<circle cx="30.70" cy="111.80" r="7.1" fill="url(#gb)"/>
<circle cx="124.50" cy="113.40" r="7.1" fill="url(#gb)"/>
<circle cx="72.30" cy="122.00" r="7.1" fill="url(#gb)"/>
<circle cx="165.20" cy="123.00" r="7.1" fill="url(#gb)"/>
<circle cx="113.20" cy="131.60" r="7.1" fill="url(#gb)"/>
<circle cx="61.60" cy="140.70" r="7.1" fill="url(#gb)"/>
<circle cx="154.60" cy="142.90" r="7.1" fill="url(#gb)"/>
<circle cx="102.10" cy="152.30" r="7.1" fill="url(#gb)"/>
<circle cx="50.00" cy="162.10" r="7.1" fill="url(#gb)"/>
<circle cx="143.60" cy="162.10" r="7.1" fill="url(#gb)"/>
<circle cx="92.00" cy="170.70" r="7.1" fill="url(#gb)"/>
<circle cx="185.30" cy="172.30" r="7.1" fill="url(#gb)"/>
<circle cx="133.40" cy="180.90" r="7.1" fill="url(#gb)"/>
<circle cx="81.30" cy="189.80" r="7.1" fill="url(#gb)"/>
<circle cx="174.80" cy="191.60" r="7.1" fill="url(#gb)"/>
<circle cx="121.80" cy="201.80" r="7.1" fill="url(#gb)"/>
<circle cx="70.00" cy="210.90" r="7.1" fill="url(#gb)"/>
<line x1="140.10" y1="84.95" x2="145.00" y2="76.30" stroke="#988cdc" stroke-width="2.4"/>
<line x1="130.20" y1="102.50" x2="125.20" y2="111.40" stroke="#988cdc" stroke-width="2.4"/>
<line x1="77.40" y1="111.80" x2="72.30" y2="120.70" stroke="#988cdc" stroke-width="2.4"/>
<line x1="87.50" y1="93.95" x2="92.50" y2="85.00" stroke="#988cdc" stroke-width="2.4"/>
<line x1="35.70" y1="102.85" x2="40.70" y2="93.90" stroke="#988cdc" stroke-width="2.4"/>
<line x1="119.30" y1="122.25" x2="114.10" y2="131.10" stroke="#988cdc" stroke-width="2.4"/>
<line x1="67.20" y1="130.90" x2="62.10" y2="139.80" stroke="#988cdc" stroke-width="2.4"/>
<line x1="119.20" y1="121.50" x2="125.20" y2="111.40" stroke="#988cdc" stroke-width="2.4"/>
<line x1="107.40" y1="142.40" x2="101.60" y2="153.20" stroke="#988cdc" stroke-width="2.4"/>
<line x1="159.60" y1="134.15" x2="164.60" y2="125.40" stroke="#988cdc" stroke-width="2.4"/>
<line x1="149.80" y1="151.80" x2="145.00" y2="160.70" stroke="#988cdc" stroke-width="2.4"/>
<line x1="97.30" y1="160.95" x2="92.50" y2="169.60" stroke="#988cdc" stroke-width="2.4"/>
<line x1="138.68" y1="171.25" x2="133.75" y2="180.40" stroke="#988cdc" stroke-width="2.4"/>
<line x1="86.90" y1="179.80" x2="81.80" y2="188.90" stroke="#988cdc" stroke-width="2.4"/>
<line x1="96.80" y1="161.95" x2="101.60" y2="153.20" stroke="#988cdc" stroke-width="2.4"/>
<line x1="139.20" y1="170.80" x2="145.00" y2="160.70" stroke="#988cdc" stroke-width="2.4"/>
<line x1="127.60" y1="191.90" x2="121.80" y2="202.90" stroke="#988cdc" stroke-width="2.4"/>
<line x1="179.45" y1="182.95" x2="184.10" y2="174.30" stroke="#988cdc" stroke-width="2.4"/>
<line x1="75.90" y1="199.90" x2="81.80" y2="188.90" stroke="#988cdc" stroke-width="2.4"/>
<circle cx="40.70" cy="93.90" r="3.6" fill="url(#gp)"/>
<circle cx="72.30" cy="120.70" r="3.6" fill="url(#gp)"/>
<circle cx="92.50" cy="85.00" r="3.6" fill="url(#gp)"/>
<circle cx="62.10" cy="139.80" r="3.6" fill="url(#gp)"/>
<circle cx="145.00" cy="76.30" r="3.6" fill="url(#gp)"/>
<circle cx="125.20" cy="111.40" r="3.6" fill="url(#gp)"/>
<circle cx="164.60" cy="125.40" r="3.6" fill="url(#gp)"/>
<circle cx="114.10" cy="131.10" r="3.6" fill="url(#gp)"/>
<circle cx="49.60" cy="162.70" r="3.6" fill="url(#gp)"/>
<circle cx="92.50" cy="169.60" r="3.6" fill="url(#gp)"/>
<circle cx="81.80" cy="188.90" r="3.6" fill="url(#gp)"/>
<circle cx="69.60" cy="211.80" r="3.6" fill="url(#gp)"/>
<circle cx="101.60" cy="153.20" r="3.6" fill="url(#gp)"/>
<circle cx="145.00" cy="160.70" r="3.6" fill="url(#gp)"/>
<circle cx="133.75" cy="180.40" r="3.6" fill="url(#gp)"/>
<circle cx="184.10" cy="174.30" r="3.6" fill="url(#gp)"/>
<circle cx="121.80" cy="202.90" r="3.6" fill="url(#gp)"/>
<circle cx="120" cy="149.3" r="5.2" fill="none" stroke="#2d6a2d" stroke-width="1.3" stroke-dasharray="1.3 1.5"/>
<line x1="13.4" y1="208.4" x2="9.0" y2="198" stroke="#22c022" stroke-width="2"/>
<path d="M6.0,199.2 L7.4,193.4 L11.6,198.2 Z" fill="#22c022"/>
<line x1="13.4" y1="208.4" x2="25" y2="206.6" stroke="#d81e1e" stroke-width="1.9"/>
<path d="M23.4,203.6 L29.4,205.8 L23.8,208.9 Z" fill="#e01a1a"/>
<line x1="13.4" y1="208.4" x2="10.2" y2="214.5" stroke="#1010c0" stroke-width="2"/>
<ellipse cx="9.4" cy="215.6" rx="2.1" ry="2.5" fill="#1010c0"/>
<circle cx="13.4" cy="208.4" r="1.3" fill="#d8d8d8"/>
<text x="4.40" y="192.60" font-family='"Liberation Sans", sans-serif' font-size="5.60" font-weight="bold" fill="#222" text-anchor="start" >b</text>
<text x="32.00" y="207.60" font-family='"Liberation Sans", sans-serif' font-size="5.60" font-weight="bold" fill="#222" text-anchor="start" >a</text>
<text x="6.00" y="222.60" font-family='"Liberation Sans", sans-serif' font-size="5.60" font-weight="bold" fill="#222" text-anchor="start" >c</text>
<defs><linearGradient id="gcbmL" x1="0" y1="0" x2="0" y2="1"><stop offset="0" stop-color="#fffefc"/><stop offset="0.34" stop-color="#fce9d2"/><stop offset="0.54" stop-color="#f8d3a4"/><stop offset="0.73" stop-color="#f3b467"/><stop offset="0.88" stop-color="#e6914b"/><stop offset="1" stop-color="#d4733a"/></linearGradient><linearGradient id="gcbmR" x1="0" y1="0" x2="0" y2="1"><stop offset="0" stop-color="#fffefc"/><stop offset="0.38" stop-color="#fce9d2"/><stop offset="0.58" stop-color="#f8d3a4"/><stop offset="0.77" stop-color="#f3b467"/><stop offset="0.9" stop-color="#e6914b"/><stop offset="1" stop-color="#d6773c"/></linearGradient><linearGradient id="gvbm" x1="0" y1="0" x2="0" y2="1"><stop offset="0" stop-color="#3f3f7f"/><stop offset="0.3" stop-color="#7968ad"/><stop offset="0.65" stop-color="#a5b4da"/><stop offset="0.92" stop-color="#e4ecf7"/><stop offset="1" stop-color="#ffffff"/></linearGradient></defs>
<rect x="220.5" y="3" width="64.5" height="105.5" fill="url(#gcbmL)"/>
<rect x="285" y="3" width="60" height="93.8" fill="url(#gcbmR)"/>
<rect x="220.5" y="107.6" width="64.5" height="1.6" fill="#e2432d"/>
<rect x="285" y="96" width="60" height="1.6" fill="#e2432d"/>
<defs><linearGradient id="ggr" x1="0" y1="0" x2="0" y2="1"><stop offset="0" stop-color="#8cbc7a"/><stop offset="0.55" stop-color="#7cae68"/><stop offset="1" stop-color="#d4e8cc"/></linearGradient></defs>
<rect x="220.5" y="109.4" width="64.5" height="4.6" fill="url(#ggr)"/>
<rect x="285" y="125.2" width="60" height="5.6" fill="url(#ggr)"/>
<rect x="220.5" y="161" width="64.5" height="95" fill="url(#gvbm)"/>
<rect x="285" y="174" width="60" height="82" fill="url(#gvbm)"/>
<rect x="220.5" y="160.6" width="64.5" height="1.6" fill="#5a1e8c"/>
<rect x="285" y="173.8" width="60" height="1.6" fill="#5a1e8c"/>
<line x1="284.9" y1="5.5" x2="284.9" y2="256" stroke="#2a2a2a" stroke-width="1.4"/>
<circle cx="233.20" cy="102.90" r="5.0" fill="#fff"/><circle cx="233.20" cy="102.90" r="4.0" fill="#0f4b78"/><rect x="230.40" y="102.05" width="5.6" height="1.7" fill="#b4cfe0"/>
<circle cx="252.60" cy="102.90" r="5.0" fill="#fff"/><circle cx="252.60" cy="102.90" r="4.0" fill="#0f4b78"/><rect x="249.80" y="102.05" width="5.6" height="1.7" fill="#b4cfe0"/>
<circle cx="271.30" cy="102.90" r="5.0" fill="#fff"/><circle cx="271.30" cy="102.90" r="4.0" fill="#0f4b78"/><rect x="268.50" y="102.05" width="5.6" height="1.7" fill="#b4cfe0"/>
<circle cx="296.70" cy="90.90" r="5.0" fill="#fff"/><circle cx="296.70" cy="90.90" r="4.0" fill="#0f4b78"/><rect x="293.90" y="90.05" width="5.6" height="1.7" fill="#b4cfe0"/>
<circle cx="315.50" cy="90.90" r="5.0" fill="#fff"/><circle cx="315.50" cy="90.90" r="4.0" fill="#0f4b78"/><rect x="312.70" y="90.05" width="5.6" height="1.7" fill="#b4cfe0"/>
<circle cx="333.40" cy="90.90" r="5.0" fill="#fff"/><circle cx="333.40" cy="90.90" r="4.0" fill="#0f4b78"/><rect x="330.60" y="90.05" width="5.6" height="1.7" fill="#b4cfe0"/>
<circle cx="233.70" cy="168.20" r="5.0" fill="#fff"/><circle cx="233.70" cy="168.20" r="4.0" fill="#e85678"/><rect x="230.90" y="167.45" width="5.6" height="1.5" fill="#fff"/><rect x="232.95" y="165.40" width="1.5" height="5.6" fill="#fff"/>
<circle cx="252.80" cy="168.20" r="5.0" fill="#fff"/><circle cx="252.80" cy="168.20" r="4.0" fill="#e85678"/><rect x="250.00" y="167.45" width="5.6" height="1.5" fill="#fff"/><rect x="252.05" y="165.40" width="1.5" height="5.6" fill="#fff"/>
<circle cx="271.30" cy="168.20" r="5.0" fill="#fff"/><circle cx="271.30" cy="168.20" r="4.0" fill="#e85678"/><rect x="268.50" y="167.45" width="5.6" height="1.5" fill="#fff"/><rect x="270.55" y="165.40" width="1.5" height="5.6" fill="#fff"/>
<circle cx="296.70" cy="181.20" r="5.0" fill="#fff"/><circle cx="296.70" cy="181.20" r="4.0" fill="#e85678"/><rect x="293.90" y="180.45" width="5.6" height="1.5" fill="#fff"/><rect x="295.95" y="178.40" width="1.5" height="5.6" fill="#fff"/>
<circle cx="315.50" cy="181.20" r="5.0" fill="#fff"/><circle cx="315.50" cy="181.20" r="4.0" fill="#e85678"/><rect x="312.70" y="180.45" width="5.6" height="1.5" fill="#fff"/><rect x="314.75" y="178.40" width="1.5" height="5.6" fill="#fff"/>
<circle cx="333.40" cy="181.20" r="5.0" fill="#fff"/><circle cx="333.40" cy="181.20" r="4.0" fill="#e85678"/><rect x="330.60" y="180.45" width="5.6" height="1.5" fill="#fff"/><rect x="332.65" y="178.40" width="1.5" height="5.6" fill="#fff"/>
<line x1="253.50" y1="160.40" x2="253.50" y2="120.30" stroke="#c4202e" stroke-width="2.1"/>
<path d="M253.50,114.30 L249.90,122.80 L253.50,121.60 L257.10,122.80 Z" fill="#c4202e"/>
<line x1="316.00" y1="124.60" x2="316.00" y2="104.20" stroke="#3b9ad6" stroke-width="2.1"/>
<path d="M316.00,98.20 L312.40,106.70 L316.00,105.50 L319.60,106.70 Z" fill="#3b9ad6"/>
<line x1="316.00" y1="173.40" x2="316.00" y2="137.60" stroke="#24306e" stroke-width="2.1"/>
<path d="M316.00,131.60 L312.40,140.10 L316.00,138.90 L319.60,140.10 Z" fill="#24306e"/>
<text x="350.60" y="98.10" font-family='"Liberation Sans", sans-serif' font-size="14.20" font-weight="normal" fill="#e8412c" text-anchor="start" textLength="31.20" lengthAdjust="spacingAndGlyphs"  stroke="#e8412c" stroke-width="0.28">CBM</text>
<text x="350.40" y="183.80" font-family='"Liberation Sans", sans-serif' font-size="14.20" font-weight="normal" fill="#2c3190" text-anchor="start" textLength="30.00" lengthAdjust="spacingAndGlyphs"  stroke="#2c3190" stroke-width="0.28">VBM</text>
<text x="238.30" y="266.50" font-family='"Liberation Sans", sans-serif' font-size="14.00" font-weight="normal" fill="#2e3d8f" text-anchor="start" textLength="27.60" lengthAdjust="spacingAndGlyphs"  stroke="#2e3d8f" stroke-width="0.28">PBE</text>
<text x="294.30" y="266.50" font-family='"Liberation Sans", sans-serif' font-size="14.00" font-weight="normal" fill="#2e3d8f" text-anchor="start" textLength="44.60" lengthAdjust="spacingAndGlyphs"  stroke="#2e3d8f" stroke-width="0.28">HSE06</text>
<rect x="436.90" y="18.40" width="237.60" height="221.90" fill="none" stroke="#1f1c1d" stroke-width="1.50"/>
<line x1="436.90" y1="18.40" x2="441.20" y2="18.40" stroke="#1f1c1d" stroke-width="1.10"/>
<line x1="436.90" y1="46.14" x2="439.40" y2="46.14" stroke="#1f1c1d" stroke-width="1.10"/>
<line x1="436.90" y1="73.88" x2="441.20" y2="73.88" stroke="#1f1c1d" stroke-width="1.10"/>
<line x1="436.90" y1="101.61" x2="439.40" y2="101.61" stroke="#1f1c1d" stroke-width="1.10"/>
<line x1="436.90" y1="129.35" x2="441.20" y2="129.35" stroke="#1f1c1d" stroke-width="1.10"/>
<line x1="436.90" y1="157.09" x2="439.40" y2="157.09" stroke="#1f1c1d" stroke-width="1.10"/>
<line x1="436.90" y1="184.83" x2="441.20" y2="184.83" stroke="#1f1c1d" stroke-width="1.10"/>
<line x1="436.90" y1="212.56" x2="439.40" y2="212.56" stroke="#1f1c1d" stroke-width="1.10"/>
<line x1="436.90" y1="240.30" x2="441.20" y2="240.30" stroke="#1f1c1d" stroke-width="1.10"/>
<line x1="436.90" y1="240.30" x2="436.90" y2="236.00" stroke="#1f1c1d" stroke-width="1.10"/>
<line x1="466.60" y1="240.30" x2="466.60" y2="237.80" stroke="#1f1c1d" stroke-width="1.10"/>
<line x1="496.30" y1="240.30" x2="496.30" y2="236.00" stroke="#1f1c1d" stroke-width="1.10"/>
<line x1="526.00" y1="240.30" x2="526.00" y2="237.80" stroke="#1f1c1d" stroke-width="1.10"/>
<line x1="555.70" y1="240.30" x2="555.70" y2="236.00" stroke="#1f1c1d" stroke-width="1.10"/>
<line x1="585.40" y1="240.30" x2="585.40" y2="237.80" stroke="#1f1c1d" stroke-width="1.10"/>
<line x1="615.10" y1="240.30" x2="615.10" y2="236.00" stroke="#1f1c1d" stroke-width="1.10"/>
<line x1="644.80" y1="240.30" x2="644.80" y2="237.80" stroke="#1f1c1d" stroke-width="1.10"/>
<line x1="674.50" y1="240.30" x2="674.50" y2="236.00" stroke="#1f1c1d" stroke-width="1.10"/>
<path d="M439.50,38.40 C441.25,38.22 446.68,37.72 450.00,37.30 C453.32,36.88 456.38,36.20 459.40,35.90 C462.42,35.60 465.28,35.22 468.10,35.50 C470.92,35.78 473.48,36.47 476.30,37.60 C479.12,38.73 482.18,40.83 485.00,42.30 C487.82,43.77 490.27,45.25 493.20,46.40 C496.13,47.55 499.58,48.87 502.60,49.20 C505.62,49.53 508.42,49.03 511.30,48.40 C514.18,47.77 517.45,46.42 519.90,45.40 C522.35,44.38 524.05,43.17 526.00,42.30 C527.95,41.43 529.78,40.20 531.60,40.20 C533.42,40.20 534.57,41.43 536.90,42.30 C539.23,43.17 542.68,44.73 545.60,45.40 C548.52,46.07 551.48,46.58 554.40,46.30 C557.32,46.02 560.28,44.82 563.10,43.70 C565.92,42.58 568.95,40.70 571.30,39.60 C573.65,38.50 575.63,37.50 577.20,37.10 C578.77,36.70 579.40,37.12 580.70,37.20 C582.00,37.28 583.40,37.40 585.00,37.60 C586.60,37.80 588.00,38.30 590.30,38.40 C592.60,38.50 596.73,38.22 598.80,38.20 C600.87,38.18 601.17,37.83 602.70,38.30 C604.23,38.77 605.70,40.10 608.00,41.00 C610.30,41.90 613.55,43.15 616.50,43.70 C619.45,44.25 622.63,44.53 625.70,44.30 C628.77,44.07 631.93,43.05 634.90,42.30 C637.87,41.55 640.43,40.22 643.50,39.80 C646.57,39.38 650.23,40.15 653.30,39.80 C656.37,39.45 659.48,38.35 661.90,37.70 C664.32,37.05 666.20,36.15 667.80,35.90 C669.40,35.65 670.88,36.15 671.50,36.20" fill="none" stroke="#2f2f80" stroke-width="2.0" stroke-linejoin="round"/>
<path d="M439.50,38.40 C441.25,38.22 446.68,37.72 450.00,37.30 C453.32,36.88 456.38,36.20 459.40,35.90 C462.42,35.60 465.28,35.22 468.10,35.50 C470.92,35.78 473.48,36.47 476.30,37.60 C479.12,38.73 482.18,40.83 485.00,42.30 C487.82,43.77 490.27,45.25 493.20,46.40 C496.13,47.55 499.58,48.87 502.60,49.20 C505.62,49.53 508.42,49.03 511.30,48.40 C514.18,47.77 517.45,46.42 519.90,45.40 C522.35,44.38 524.05,43.17 526.00,42.30 C527.95,41.43 529.78,40.20 531.60,40.20 C533.42,40.20 534.57,41.43 536.90,42.30 C539.23,43.17 542.68,44.73 545.60,45.40 C548.52,46.07 551.48,46.58 554.40,46.30 C557.32,46.02 560.28,44.82 563.10,43.70 C565.92,42.58 568.95,40.70 571.30,39.60 C573.65,38.50 575.63,37.50 577.20,37.10 C578.77,36.70 579.40,37.12 580.70,37.20 C582.00,37.28 583.40,37.40 585.00,37.60 C586.60,37.80 588.00,38.30 590.30,38.40 C592.60,38.50 596.73,38.22 598.80,38.20 C600.87,38.18 601.17,37.83 602.70,38.30 C604.23,38.77 605.70,40.10 608.00,41.00 C610.30,41.90 613.55,43.15 616.50,43.70 C619.45,44.25 622.63,44.53 625.70,44.30 C628.77,44.07 631.93,43.05 634.90,42.30 C637.87,41.55 640.43,40.22 643.50,39.80 C646.57,39.38 650.23,40.15 653.30,39.80 C656.37,39.45 659.48,38.35 661.90,37.70 C664.32,37.05 666.20,36.15 667.80,35.90 C669.40,35.65 670.88,36.15 671.50,36.20" fill="none" stroke="#e57430" stroke-width="2.5" stroke-dasharray="3.5 5.7" stroke-dashoffset="0"/>
<path d="M439.50,121.10 C440.87,121.98 444.78,124.65 447.70,126.40 C450.62,128.15 453.88,130.28 457.00,131.60 C460.12,132.92 463.28,133.65 466.40,134.30 C469.52,134.95 472.60,135.55 475.70,135.50 C478.80,135.45 481.88,134.93 485.00,134.00 C488.12,133.07 491.28,131.65 494.40,129.90 C497.52,128.15 501.10,125.35 503.70,123.50 C506.30,121.65 507.78,120.65 510.00,118.80 C512.22,116.95 514.47,114.83 517.00,112.40 C519.53,109.97 522.47,106.83 525.20,104.20 C527.93,101.57 530.48,98.93 533.40,96.60 C536.32,94.27 539.60,92.05 542.70,90.20 C545.80,88.35 548.88,86.57 552.00,85.50 C555.12,84.43 558.47,83.83 561.40,83.80 C564.33,83.77 566.88,84.33 569.60,85.30 C572.32,86.27 575.18,87.92 577.70,89.60 C580.22,91.28 582.38,93.35 584.70,95.40 C587.02,97.45 589.37,99.72 591.60,101.90 C593.83,104.08 595.92,106.30 598.10,108.50 C600.28,110.70 602.28,112.92 604.70,115.10 C607.12,117.28 609.97,119.85 612.60,121.60 C615.23,123.35 617.65,124.60 620.50,125.60 C623.35,126.60 626.63,127.43 629.70,127.60 C632.77,127.77 635.83,127.08 638.90,126.60 C641.97,126.12 645.03,125.35 648.10,124.70 C651.17,124.05 654.47,123.05 657.30,122.70 C660.13,122.35 662.70,122.38 665.10,122.60 C667.50,122.82 670.60,123.77 671.70,124.00" fill="none" stroke="#5c5cc4" stroke-width="2.0" stroke-linejoin="round"/>
<path d="M439.50,121.50 C440.87,122.38 444.78,125.15 447.70,126.80 C450.62,128.45 453.95,130.17 457.00,131.40 C460.05,132.63 462.98,133.58 466.00,134.20 C469.02,134.82 472.12,135.30 475.10,135.10 C478.08,134.90 481.07,133.97 483.90,133.00 C486.73,132.03 489.48,130.70 492.10,129.30 C494.72,127.90 497.17,126.30 499.60,124.60 C502.03,122.90 504.27,121.10 506.70,119.10 C509.13,117.10 511.80,114.70 514.20,112.60 C516.60,110.50 518.78,108.48 521.10,106.50 C523.42,104.52 525.70,102.60 528.10,100.70 C530.50,98.80 532.92,96.92 535.50,95.10 C538.08,93.28 540.85,91.30 543.60,89.80 C546.35,88.30 549.07,86.97 552.00,86.10 C554.93,85.23 558.18,84.57 561.20,84.60 C564.22,84.63 567.25,85.32 570.10,86.30 C572.95,87.28 575.77,88.82 578.30,90.50 C580.83,92.18 583.08,94.45 585.30,96.40 C587.52,98.35 589.47,100.13 591.60,102.20 C593.73,104.27 595.92,106.62 598.10,108.80 C600.28,110.98 602.28,113.13 604.70,115.30 C607.12,117.47 609.97,120.05 612.60,121.80 C615.23,123.55 617.65,124.80 620.50,125.80 C623.35,126.80 626.63,127.63 629.70,127.80 C632.77,127.97 635.83,127.27 638.90,126.80 C641.97,126.33 645.03,125.53 648.10,125.00 C651.17,124.47 654.47,123.70 657.30,123.60 C660.13,123.50 662.82,124.07 665.10,124.40 C667.38,124.73 670.02,125.40 671.00,125.60" fill="none" stroke="#e8843e" stroke-width="2.5" stroke-dasharray="3.5 5.7" stroke-dashoffset="0"/>
<path d="M440.40,224.00 C441.85,223.72 446.03,222.80 449.10,222.30 C452.17,221.80 455.58,221.07 458.80,221.00 C462.02,220.93 465.33,221.75 468.40,221.90 C471.47,222.05 474.13,222.05 477.20,221.90 C480.27,221.75 483.73,221.23 486.80,221.00 C489.87,220.77 492.53,220.43 495.60,220.50 C498.67,220.57 502.13,220.97 505.20,221.40 C508.27,221.83 510.93,222.60 514.00,223.10 C517.07,223.60 520.53,224.10 523.60,224.40 C526.67,224.70 529.33,224.85 532.40,224.90 C535.47,224.95 538.92,224.80 542.00,224.70 C545.08,224.60 547.90,224.38 550.90,224.30 C553.90,224.22 556.95,224.00 560.00,224.20 C563.05,224.40 566.15,225.07 569.20,225.50 C572.25,225.93 575.27,226.55 578.30,226.80 C581.33,227.05 584.22,227.12 587.40,227.00 C590.58,226.88 594.20,226.38 597.40,226.10 C600.60,225.82 603.55,225.48 606.60,225.30 C609.65,225.12 612.67,225.30 615.70,225.00 C618.73,224.70 621.77,224.00 624.80,223.50 C627.83,223.00 630.85,222.37 633.90,222.00 C636.95,221.63 640.05,221.23 643.10,221.30 C646.15,221.37 649.17,221.92 652.20,222.40 C655.23,222.88 658.27,223.58 661.30,224.20 C664.33,224.82 668.88,225.78 670.40,226.10" fill="none" stroke="#9c9ce6" stroke-width="2.0" stroke-linejoin="round"/>
<path d="M440.40,224.00 C441.85,223.72 446.03,222.80 449.10,222.30 C452.17,221.80 455.58,221.07 458.80,221.00 C462.02,220.93 465.33,221.75 468.40,221.90 C471.47,222.05 474.13,222.05 477.20,221.90 C480.27,221.75 483.73,221.23 486.80,221.00 C489.87,220.77 492.53,220.43 495.60,220.50 C498.67,220.57 502.13,220.97 505.20,221.40 C508.27,221.83 510.93,222.60 514.00,223.10 C517.07,223.60 520.53,224.10 523.60,224.40 C526.67,224.70 529.33,224.85 532.40,224.90 C535.47,224.95 538.92,224.80 542.00,224.70 C545.08,224.60 547.90,224.38 550.90,224.30 C553.90,224.22 556.95,224.00 560.00,224.20 C563.05,224.40 566.15,225.07 569.20,225.50 C572.25,225.93 575.27,226.55 578.30,226.80 C581.33,227.05 584.22,227.12 587.40,227.00 C590.58,226.88 594.20,226.38 597.40,226.10 C600.60,225.82 603.55,225.48 606.60,225.30 C609.65,225.12 612.67,225.30 615.70,225.00 C618.73,224.70 621.77,224.00 624.80,223.50 C627.83,223.00 630.85,222.37 633.90,222.00 C636.95,221.63 640.05,221.23 643.10,221.30 C646.15,221.37 649.17,221.92 652.20,222.40 C655.23,222.88 658.27,223.58 661.30,224.20 C664.33,224.82 668.88,225.78 670.40,226.10" fill="none" stroke="#f0ab78" stroke-width="2.5" stroke-dasharray="3.5 5.7" stroke-dashoffset="0"/>
<line x1="447.9" y1="64.7" x2="470.2" y2="64.7" stroke="#2f2f80" stroke-width="1.6"/>
<line x1="447.9" y1="82.2" x2="470.5" y2="82.2" stroke="#e07028" stroke-width="2.1" stroke-dasharray="3.6 5.6"/>
<text x="481.30" y="69.10" font-family='"Liberation Mono", monospace' font-size="12.60" font-weight="normal" fill="#333" text-anchor="start" textLength="21.80" lengthAdjust="spacingAndGlyphs"  stroke="#333" stroke-width="0.08">DFT</text>
<text x="481.60" y="86.80" font-family='"Liberation Mono", monospace' font-size="12.60" font-weight="normal" fill="#333" text-anchor="start" textLength="6.60" lengthAdjust="spacingAndGlyphs"  stroke="#333" stroke-width="0.08">N</text>
<text x="488.80" y="81.50" font-family='"Liberation Sans", sans-serif' font-size="8.60" font-weight="normal" fill="#333" text-anchor="start" textLength="4.40" lengthAdjust="spacingAndGlyphs"  stroke="#333" stroke-width="0.28">2</text>
<text x="493.70" y="86.80" font-family='"Liberation Mono", monospace' font-size="12.60" font-weight="normal" fill="#333" text-anchor="start" textLength="22.40" lengthAdjust="spacingAndGlyphs"  stroke="#333" stroke-width="0.08">AMD</text>
<text x="432.30" y="22.70" font-family='"Liberation Sans", sans-serif' font-size="12.50" font-weight="normal" fill="#1f1c1d" text-anchor="end" textLength="11.20" lengthAdjust="spacingAndGlyphs"  stroke="#1f1c1d" stroke-width="0.28">-2</text>
<text x="432.30" y="78.17" font-family='"Liberation Sans", sans-serif' font-size="12.50" font-weight="normal" fill="#1f1c1d" text-anchor="end" textLength="11.20" lengthAdjust="spacingAndGlyphs"  stroke="#1f1c1d" stroke-width="0.28">-3</text>
<text x="432.30" y="133.65" font-family='"Liberation Sans", sans-serif' font-size="12.50" font-weight="normal" fill="#1f1c1d" text-anchor="end" textLength="11.20" lengthAdjust="spacingAndGlyphs"  stroke="#1f1c1d" stroke-width="0.28">-4</text>
<text x="432.30" y="189.13" font-family='"Liberation Sans", sans-serif' font-size="12.50" font-weight="normal" fill="#1f1c1d" text-anchor="end" textLength="11.20" lengthAdjust="spacingAndGlyphs"  stroke="#1f1c1d" stroke-width="0.28">-5</text>
<text x="432.30" y="244.60" font-family='"Liberation Sans", sans-serif' font-size="12.50" font-weight="normal" fill="#1f1c1d" text-anchor="end" textLength="11.20" lengthAdjust="spacingAndGlyphs"  stroke="#1f1c1d" stroke-width="0.28">-6</text>
<text x="433.25" y="255.70" font-family='"Liberation Sans", sans-serif' font-size="12.20" font-weight="normal" fill="#1f1c1d" text-anchor="start" textLength="6.70" lengthAdjust="spacingAndGlyphs"  stroke="#1f1c1d" stroke-width="0.28">0</text>
<text x="489.00" y="255.70" font-family='"Liberation Sans", sans-serif' font-size="12.20" font-weight="normal" fill="#1f1c1d" text-anchor="start" textLength="14.00" lengthAdjust="spacingAndGlyphs"  stroke="#1f1c1d" stroke-width="0.28">25</text>
<text x="548.40" y="255.70" font-family='"Liberation Sans", sans-serif' font-size="12.20" font-weight="normal" fill="#1f1c1d" text-anchor="start" textLength="14.00" lengthAdjust="spacingAndGlyphs"  stroke="#1f1c1d" stroke-width="0.28">50</text>
<text x="607.80" y="255.70" font-family='"Liberation Sans", sans-serif' font-size="12.20" font-weight="normal" fill="#1f1c1d" text-anchor="start" textLength="14.00" lengthAdjust="spacingAndGlyphs"  stroke="#1f1c1d" stroke-width="0.28">75</text>
<text x="663.85" y="255.70" font-family='"Liberation Sans", sans-serif' font-size="12.20" font-weight="normal" fill="#1f1c1d" text-anchor="start" textLength="21.30" lengthAdjust="spacingAndGlyphs"  stroke="#1f1c1d" stroke-width="0.28">100</text>
<text x="522.80" y="274.60" font-family='"Liberation Sans", sans-serif' font-size="16.10" font-weight="normal" fill="#1f1c1d" text-anchor="start" textLength="64.40" lengthAdjust="spacingAndGlyphs"  stroke="#1f1c1d" stroke-width="0.28">Time (fs)</text>
<text transform="translate(411.3,210.6) rotate(-90)" x="0" y="0" font-family='"Liberation Sans", sans-serif' font-size="15.9" fill="#1f1c1d" stroke="#1f1c1d" stroke-width="0.28" textLength="161.6" lengthAdjust="spacingAndGlyphs">KS orbital energy (eV)</text>
<rect x="54.50" y="298.30" width="268.00" height="222.90" fill="none" stroke="#1f1c1d" stroke-width="1.5"/>
<line x1="54.50" y1="372.60" x2="322.50" y2="372.60" stroke="#1f1c1d" stroke-width="1.3"/>
<line x1="54.50" y1="446.80" x2="322.50" y2="446.80" stroke="#1f1c1d" stroke-width="1.3"/>
<line x1="121.50" y1="372.60" x2="121.50" y2="368.30" stroke="#1f1c1d" stroke-width="1.10"/>
<line x1="188.50" y1="372.60" x2="188.50" y2="368.30" stroke="#1f1c1d" stroke-width="1.10"/>
<line x1="255.50" y1="372.60" x2="255.50" y2="368.30" stroke="#1f1c1d" stroke-width="1.10"/>
<line x1="88.00" y1="372.60" x2="88.00" y2="370.20" stroke="#1f1c1d" stroke-width="1.10"/>
<line x1="155.00" y1="372.60" x2="155.00" y2="370.20" stroke="#1f1c1d" stroke-width="1.10"/>
<line x1="222.00" y1="372.60" x2="222.00" y2="370.20" stroke="#1f1c1d" stroke-width="1.10"/>
<line x1="289.00" y1="372.60" x2="289.00" y2="370.20" stroke="#1f1c1d" stroke-width="1.10"/>
<line x1="121.50" y1="446.80" x2="121.50" y2="442.50" stroke="#1f1c1d" stroke-width="1.10"/>
<line x1="188.50" y1="446.80" x2="188.50" y2="442.50" stroke="#1f1c1d" stroke-width="1.10"/>
<line x1="255.50" y1="446.80" x2="255.50" y2="442.50" stroke="#1f1c1d" stroke-width="1.10"/>
<line x1="88.00" y1="446.80" x2="88.00" y2="444.40" stroke="#1f1c1d" stroke-width="1.10"/>
<line x1="155.00" y1="446.80" x2="155.00" y2="444.40" stroke="#1f1c1d" stroke-width="1.10"/>
<line x1="222.00" y1="446.80" x2="222.00" y2="444.40" stroke="#1f1c1d" stroke-width="1.10"/>
<line x1="289.00" y1="446.80" x2="289.00" y2="444.40" stroke="#1f1c1d" stroke-width="1.10"/>
<line x1="121.50" y1="521.20" x2="121.50" y2="516.90" stroke="#1f1c1d" stroke-width="1.10"/>
<line x1="188.50" y1="521.20" x2="188.50" y2="516.90" stroke="#1f1c1d" stroke-width="1.10"/>
<line x1="255.50" y1="521.20" x2="255.50" y2="516.90" stroke="#1f1c1d" stroke-width="1.10"/>
<line x1="88.00" y1="521.20" x2="88.00" y2="518.80" stroke="#1f1c1d" stroke-width="1.10"/>
<line x1="155.00" y1="521.20" x2="155.00" y2="518.80" stroke="#1f1c1d" stroke-width="1.10"/>
<line x1="222.00" y1="521.20" x2="222.00" y2="518.80" stroke="#1f1c1d" stroke-width="1.10"/>
<line x1="289.00" y1="521.20" x2="289.00" y2="518.80" stroke="#1f1c1d" stroke-width="1.10"/>
<line x1="54.50" y1="347.83" x2="58.80" y2="347.83" stroke="#1f1c1d" stroke-width="1.10"/>
<line x1="54.50" y1="323.07" x2="58.80" y2="323.07" stroke="#1f1c1d" stroke-width="1.10"/>
<line x1="54.50" y1="422.07" x2="58.80" y2="422.07" stroke="#1f1c1d" stroke-width="1.10"/>
<line x1="54.50" y1="397.33" x2="58.80" y2="397.33" stroke="#1f1c1d" stroke-width="1.10"/>
<line x1="54.50" y1="496.40" x2="58.80" y2="496.40" stroke="#1f1c1d" stroke-width="1.10"/>
<line x1="54.50" y1="471.60" x2="58.80" y2="471.60" stroke="#1f1c1d" stroke-width="1.10"/>
<text x="49.80" y="302.60" font-family='"Liberation Sans", sans-serif' font-size="12.50" font-weight="normal" fill="#1f1c1d" text-anchor="end" textLength="6.70" lengthAdjust="spacingAndGlyphs"  stroke="#1f1c1d" stroke-width="0.28">9</text>
<text x="49.80" y="327.37" font-family='"Liberation Sans", sans-serif' font-size="12.50" font-weight="normal" fill="#1f1c1d" text-anchor="end" textLength="6.70" lengthAdjust="spacingAndGlyphs"  stroke="#1f1c1d" stroke-width="0.28">6</text>
<text x="49.80" y="352.13" font-family='"Liberation Sans", sans-serif' font-size="12.50" font-weight="normal" fill="#1f1c1d" text-anchor="end" textLength="6.70" lengthAdjust="spacingAndGlyphs"  stroke="#1f1c1d" stroke-width="0.28">3</text>
<text x="49.80" y="376.90" font-family='"Liberation Sans", sans-serif' font-size="12.50" font-weight="normal" fill="#1f1c1d" text-anchor="end" textLength="6.70" lengthAdjust="spacingAndGlyphs"  stroke="#1f1c1d" stroke-width="0.28">0</text>
<text x="49.80" y="401.63" font-family='"Liberation Sans", sans-serif' font-size="12.50" font-weight="normal" fill="#1f1c1d" text-anchor="end" textLength="17.60" lengthAdjust="spacingAndGlyphs"  stroke="#1f1c1d" stroke-width="0.28">0.8</text>
<text x="49.80" y="426.37" font-family='"Liberation Sans", sans-serif' font-size="12.50" font-weight="normal" fill="#1f1c1d" text-anchor="end" textLength="17.60" lengthAdjust="spacingAndGlyphs"  stroke="#1f1c1d" stroke-width="0.28">0.4</text>
<text x="49.80" y="451.10" font-family='"Liberation Sans", sans-serif' font-size="12.50" font-weight="normal" fill="#1f1c1d" text-anchor="end" textLength="17.60" lengthAdjust="spacingAndGlyphs"  stroke="#1f1c1d" stroke-width="0.28">0.0</text>
<text x="49.80" y="475.90" font-family='"Liberation Sans", sans-serif' font-size="12.50" font-weight="normal" fill="#1f1c1d" text-anchor="end" textLength="17.60" lengthAdjust="spacingAndGlyphs"  stroke="#1f1c1d" stroke-width="0.28">1.0</text>
<text x="49.80" y="500.70" font-family='"Liberation Sans", sans-serif' font-size="12.50" font-weight="normal" fill="#1f1c1d" text-anchor="end" textLength="17.60" lengthAdjust="spacingAndGlyphs"  stroke="#1f1c1d" stroke-width="0.28">0.5</text>
<text x="49.80" y="525.50" font-family='"Liberation Sans", sans-serif' font-size="12.50" font-weight="normal" fill="#1f1c1d" text-anchor="end" textLength="17.60" lengthAdjust="spacingAndGlyphs"  stroke="#1f1c1d" stroke-width="0.28">0.0</text>
<text x="50.85" y="536.80" font-family='"Liberation Sans", sans-serif' font-size="12.20" font-weight="normal" fill="#1f1c1d" text-anchor="start" textLength="6.70" lengthAdjust="spacingAndGlyphs"  stroke="#1f1c1d" stroke-width="0.28">0</text>
<text x="114.20" y="536.80" font-family='"Liberation Sans", sans-serif' font-size="12.20" font-weight="normal" fill="#1f1c1d" text-anchor="start" textLength="14.00" lengthAdjust="spacingAndGlyphs"  stroke="#1f1c1d" stroke-width="0.28">25</text>
<text x="181.20" y="536.80" font-family='"Liberation Sans", sans-serif' font-size="12.20" font-weight="normal" fill="#1f1c1d" text-anchor="start" textLength="14.00" lengthAdjust="spacingAndGlyphs"  stroke="#1f1c1d" stroke-width="0.28">50</text>
<text x="248.20" y="536.80" font-family='"Liberation Sans", sans-serif' font-size="12.20" font-weight="normal" fill="#1f1c1d" text-anchor="start" textLength="14.00" lengthAdjust="spacingAndGlyphs"  stroke="#1f1c1d" stroke-width="0.28">75</text>
<text x="312.55" y="536.80" font-family='"Liberation Sans", sans-serif' font-size="12.20" font-weight="normal" fill="#1f1c1d" text-anchor="start" textLength="21.30" lengthAdjust="spacingAndGlyphs"  stroke="#1f1c1d" stroke-width="0.28">100</text>
<text x="156.10" y="556.50" font-family='"Liberation Sans", sans-serif' font-size="16.10" font-weight="normal" fill="#1f1c1d" text-anchor="start" textLength="64.60" lengthAdjust="spacingAndGlyphs"  stroke="#1f1c1d" stroke-width="0.28">Time (fs)</text>
<text transform="translate(23.7,457) rotate(-90)" x="0" y="0" font-family='"Liberation Sans", sans-serif' font-size="16.2" fill="#1f1c1d" stroke="#1f1c1d" stroke-width="0.28" textLength="94" lengthAdjust="spacingAndGlyphs">INACI (meV)</text>
<line x1="69.9" y1="310.9" x2="80.6" y2="310.9" stroke="#55549e" stroke-width="1.5"/>
<line x1="69.7" y1="329.3" x2="80" y2="329.3" stroke="#e07028" stroke-width="2" stroke-dasharray="2.6 4.2"/>
<text x="90.20" y="316.00" font-family='"Liberation Mono", monospace' font-size="13.20" font-weight="normal" fill="#333" text-anchor="start" textLength="23.60" lengthAdjust="spacingAndGlyphs"  stroke="#333" stroke-width="0.08">DFT</text>
<text x="90.20" y="333.70" font-family='"Liberation Mono", monospace' font-size="13.20" font-weight="normal" fill="#333" text-anchor="start" textLength="7.40" lengthAdjust="spacingAndGlyphs"  stroke="#333" stroke-width="0.08">N</text>
<text x="98.90" y="329.10" font-family='"Liberation Sans", sans-serif' font-size="8.60" font-weight="normal" fill="#333" text-anchor="start" textLength="4.40" lengthAdjust="spacingAndGlyphs"  stroke="#333" stroke-width="0.28">2</text>
<text x="103.40" y="333.70" font-family='"Liberation Mono", monospace' font-size="13.20" font-weight="normal" fill="#333" text-anchor="start" textLength="23.80" lengthAdjust="spacingAndGlyphs"  stroke="#333" stroke-width="0.08">AMD</text>
<text x="241.80" y="316.10" font-family='"Liberation Mono", monospace' font-size="13.14" font-weight="normal" fill="#262626" text-anchor="start"  stroke="#262626" stroke-width="0.08">d(</text>
<text x="256.60" y="315.20" font-family='"Liberation Serif", serif' font-size="15.00" font-weight="normal" fill="#262626" text-anchor="start" textLength="10.20" lengthAdjust="spacingAndGlyphs"  stroke="#262626" stroke-width="0.28">V</text>
<text x="269.50" y="310.90" font-family='"Liberation Serif", serif' font-size="11.60" font-weight="normal" fill="#262626" text-anchor="start" textLength="5.60" lengthAdjust="spacingAndGlyphs"  stroke="#262626" stroke-width="0.28">+</text>
<text x="269.00" y="316.90" font-family='"Liberation Serif", serif' font-size="8.40" font-weight="normal" fill="#262626" text-anchor="start" textLength="6.60" lengthAdjust="spacingAndGlyphs"  stroke="#262626" stroke-width="0.28">O</text>
<text x="276.20" y="316.10" font-family='"Liberation Mono", monospace' font-size="13.14" font-weight="normal" fill="#262626" text-anchor="start"  stroke="#262626" stroke-width="0.08">,CBM)</text>
<text x="242.00" y="389.10" font-family='"Liberation Mono", monospace' font-size="13.14" font-weight="normal" fill="#262626" text-anchor="start"  stroke="#262626" stroke-width="0.08">d(VBM,CBM)</text>
<text x="242.00" y="464.90" font-family='"Liberation Mono", monospace' font-size="13.14" font-weight="normal" fill="#262626" text-anchor="start"  stroke="#262626" stroke-width="0.08">d(VBM,</text>
<text x="288.90" y="464.60" font-family='"Liberation Serif", serif' font-size="15.00" font-weight="normal" fill="#262626" text-anchor="start" textLength="10.20" lengthAdjust="spacingAndGlyphs"  stroke="#262626" stroke-width="0.28">V</text>
<text x="300.40" y="460.20" font-family='"Liberation Serif", serif' font-size="11.60" font-weight="normal" fill="#262626" text-anchor="start" textLength="5.60" lengthAdjust="spacingAndGlyphs"  stroke="#262626" stroke-width="0.28">+</text>
<text x="300.00" y="466.70" font-family='"Liberation Serif", serif' font-size="8.40" font-weight="normal" fill="#262626" text-anchor="start" textLength="6.60" lengthAdjust="spacingAndGlyphs"  stroke="#262626" stroke-width="0.28">O</text>
<text x="308.10" y="464.90" font-family='"Liberation Mono", monospace' font-size="13.14" font-weight="normal" fill="#262626" text-anchor="start"  stroke="#262626" stroke-width="0.08">)</text>
<defs><clipPath id="cd1"><rect x="54.5" y="298.3" width="268.0" height="75.8"/></clipPath><clipPath id="cd2"><rect x="54.5" y="372.6" width="268.0" height="75.7"/></clipPath><clipPath id="cd3"><rect x="54.5" y="446.8" width="268.0" height="75.9"/></clipPath></defs>
<g clip-path="url(#cd1)">
<path d="M54.50,372.30 C55.75,372.28 59.23,372.28 62.00,372.20 C64.77,372.12 68.48,371.83 71.10,371.80 C73.72,371.77 75.08,372.00 77.70,372.00 C80.32,372.00 84.18,372.23 86.80,371.80 C89.42,371.37 91.45,370.05 93.40,369.40 C95.35,368.75 96.75,368.23 98.50,367.90 C100.25,367.57 101.90,367.37 103.90,367.40 C105.90,367.43 108.30,367.65 110.50,368.10 C112.70,368.55 115.13,369.45 117.10,370.10 C119.07,370.75 121.43,371.68 122.30,372.00 C122.75,371.97 123.25,372.78 125.00,371.80 C126.75,370.82 130.30,367.83 132.80,366.10 C135.30,364.37 137.62,362.90 140.00,361.40 C142.38,359.90 144.72,358.17 147.10,357.10 C149.48,356.03 152.63,355.12 154.30,355.00 C155.97,354.88 156.15,355.22 157.10,356.40 C158.05,357.58 158.80,359.83 160.00,362.10 C161.20,364.37 163.58,368.68 164.30,370.00 C165.25,369.17 168.10,366.50 170.00,365.00 C171.90,363.50 174.03,361.90 175.70,361.00 C177.37,360.10 178.33,359.53 180.00,359.60 C181.67,359.67 184.03,360.50 185.70,361.40 C187.37,362.30 188.57,363.92 190.00,365.00 C191.43,366.08 193.12,366.83 194.30,367.90 C195.48,368.97 195.92,370.65 197.10,371.40 C198.28,372.15 199.85,372.28 201.40,372.40 C202.95,372.52 204.97,373.33 206.40,372.10 C207.83,370.87 208.68,368.80 210.00,365.00 C211.32,361.20 212.98,354.53 214.30,349.30 C215.62,344.07 216.72,338.60 217.90,333.60 C219.08,328.60 220.45,322.77 221.40,319.30 C222.35,315.83 222.83,314.40 223.60,312.80 C224.37,311.20 225.17,310.28 226.00,309.70 C226.83,309.12 227.73,309.30 228.60,309.30 C229.47,309.30 230.43,309.15 231.20,309.70 C231.97,310.25 232.53,311.15 233.20,312.60 C233.87,314.05 234.25,314.77 235.20,318.40 C236.15,322.03 237.80,328.57 238.90,334.40 C240.00,340.23 240.83,348.17 241.80,353.40 C242.77,358.63 243.37,363.08 244.70,365.80 C246.03,368.52 247.73,368.97 249.80,369.70 C251.87,370.43 253.93,370.12 257.10,370.20 C260.27,370.28 265.38,369.97 268.80,370.20 C272.22,370.43 275.17,372.08 277.60,371.60 C280.03,371.12 281.58,368.68 283.40,367.30 C285.22,365.92 286.55,363.97 288.50,363.30 C290.45,362.63 292.55,363.00 295.10,363.30 C297.65,363.60 300.88,364.32 303.80,365.10 C306.72,365.88 311.13,367.52 312.60,368.00 C313.70,367.38 317.55,365.25 319.20,364.30 C320.85,363.35 321.95,362.63 322.50,362.30" fill="none" stroke="#3d3d88" stroke-width="1.6" stroke-linejoin="round"/>
<path d="M55.00,372.30 C56.70,372.32 62.30,372.45 65.20,372.40 C68.10,372.35 70.10,372.07 72.40,372.00 C74.70,371.93 76.82,371.95 79.00,372.00 C81.18,372.05 83.32,372.62 85.50,372.30 C87.68,371.98 89.90,370.68 92.10,370.10 C94.30,369.52 96.40,369.02 98.70,368.80 C101.00,368.58 103.60,368.70 105.90,368.80 C108.20,368.90 110.32,368.92 112.50,369.40 C114.68,369.88 117.92,371.32 119.00,371.70 C119.88,371.43 122.43,371.10 124.30,370.10 C126.17,369.10 128.12,367.02 130.20,365.70 C132.28,364.38 134.62,363.45 136.80,362.20 C138.98,360.95 141.33,359.28 143.30,358.20 C145.27,357.12 146.65,356.12 148.60,355.70 C150.55,355.28 153.33,354.75 155.00,355.70 C156.67,356.65 157.53,359.50 158.60,361.40 C159.67,363.30 160.33,365.67 161.40,367.10 C162.47,368.53 164.40,369.52 165.00,370.00 C165.95,369.40 168.68,367.52 170.70,366.40 C172.72,365.28 175.07,363.65 177.10,363.30 C179.13,362.95 180.98,363.67 182.90,364.30 C184.82,364.93 186.58,366.03 188.60,367.10 C190.62,368.17 192.87,369.82 195.00,370.70 C197.13,371.58 199.38,372.40 201.40,372.40 C203.42,372.40 205.43,372.88 207.10,370.70 C208.77,368.52 209.97,363.82 211.40,359.30 C212.83,354.78 214.38,348.60 215.70,343.60 C217.02,338.60 218.23,333.58 219.30,329.30 C220.37,325.02 221.03,320.63 222.10,317.90 C223.17,315.17 224.62,313.92 225.70,312.90 C226.78,311.88 227.38,311.62 228.60,311.80 C229.82,311.98 231.65,311.20 233.00,314.00 C234.35,316.80 235.72,323.73 236.70,328.60 C237.68,333.47 238.17,338.33 238.90,343.20 C239.63,348.07 240.38,353.92 241.10,357.80 C241.82,361.68 241.98,364.32 243.20,366.50 C244.42,368.68 245.35,370.22 248.40,370.90 C251.45,371.58 257.13,370.72 261.50,370.60 C265.87,370.48 271.20,370.10 274.60,370.20 C278.00,370.30 279.95,371.57 281.90,371.20 C283.85,370.83 284.47,369.07 286.30,368.00 C288.13,366.93 290.70,365.33 292.90,364.80 C295.10,364.27 297.18,364.57 299.50,364.80 C301.82,365.03 304.62,365.67 306.80,366.20 C308.98,366.73 311.63,367.70 312.60,368.00 C313.57,367.38 316.75,365.25 318.40,364.30 C320.05,363.35 321.82,362.63 322.50,362.30" fill="none" stroke="#e2702c" stroke-width="2.0" stroke-dasharray="2.4 4.3"/>
</g><g clip-path="url(#cd2)">
<path d="M57.30,406.30 C57.85,406.18 59.40,406.48 60.60,405.60 C61.80,404.72 63.18,403.08 64.50,401.00 C65.82,398.92 67.33,395.13 68.50,393.10 C69.67,391.07 70.73,389.73 71.50,388.80 C72.27,387.87 72.40,387.55 73.10,387.50 C73.80,387.45 74.72,387.57 75.70,388.50 C76.68,389.43 77.68,390.47 79.00,393.10 C80.32,395.73 82.07,400.35 83.60,404.30 C85.13,408.25 86.78,412.32 88.20,416.80 C89.62,421.28 91.02,427.03 92.10,431.20 C93.18,435.37 94.05,439.50 94.70,441.80 C95.35,444.10 95.78,444.47 96.00,445.00 C96.45,444.47 97.70,442.77 98.70,441.80 C99.70,440.83 100.92,439.75 102.00,439.20 C103.08,438.65 103.78,438.40 105.20,438.50 C106.62,438.60 108.52,438.93 110.50,439.80 C112.48,440.67 115.23,442.72 117.10,443.70 C118.97,444.68 120.38,445.37 121.70,445.70 C123.02,446.03 123.58,446.35 125.00,445.70 C126.42,445.05 128.23,442.78 130.20,441.80 C132.17,440.82 135.17,440.25 136.80,439.80 C138.43,439.35 138.58,439.32 140.00,439.10 C141.42,438.88 143.55,438.38 145.30,438.50 C147.05,438.62 148.97,439.15 150.50,439.80 C152.03,440.45 153.30,441.42 154.50,442.40 C155.70,443.38 156.40,445.03 157.70,445.70 C159.00,446.37 160.22,446.28 162.30,446.40 C164.38,446.52 168.00,446.73 170.20,446.40 C172.40,446.07 173.53,445.62 175.50,444.40 C177.47,443.18 179.60,441.07 182.00,439.10 C184.40,437.13 187.48,434.68 189.90,432.60 C192.32,430.52 194.52,428.32 196.50,426.60 C198.48,424.88 200.63,423.03 201.80,422.30 C202.97,421.57 203.07,422.13 203.50,422.20 C203.93,422.27 203.82,421.42 204.40,422.70 C204.98,423.98 206.13,426.95 207.00,429.90 C207.87,432.85 209.17,438.65 209.60,440.40 C210.05,437.57 211.37,427.73 212.30,423.40 C213.23,419.07 214.72,415.90 215.20,414.40 C215.70,415.23 217.15,416.82 218.20,419.40 C219.25,421.98 220.30,426.40 221.50,429.90 C222.70,433.40 224.08,438.38 225.40,440.40 C226.72,442.42 227.77,441.85 229.40,442.00 C231.03,442.15 233.50,440.93 235.20,441.30 C236.90,441.67 238.13,443.77 239.60,444.20 C241.07,444.63 242.30,443.60 244.00,443.90 C245.70,444.20 248.10,445.95 249.80,446.00 C251.50,446.05 252.62,444.87 254.20,444.20 C255.78,443.53 257.72,442.12 259.30,442.00 C260.88,441.88 262.23,442.77 263.70,443.50 C265.17,444.23 267.37,445.92 268.10,446.40 C268.70,445.55 270.37,444.10 271.70,441.30 C273.03,438.50 274.63,434.22 276.10,429.60 C277.57,424.98 279.03,419.07 280.50,413.60 C281.97,408.13 284.17,399.60 284.90,396.80 C285.38,397.65 286.95,398.62 287.80,401.90 C288.65,405.18 289.27,410.90 290.00,416.50 C290.73,422.10 291.65,430.63 292.20,435.50 C292.75,440.37 293.12,444.00 293.30,445.70 C293.60,444.00 294.20,439.63 295.10,435.50 C296.00,431.37 297.25,425.28 298.70,420.90 C300.15,416.52 302.10,412.37 303.80,409.20 C305.50,406.03 308.05,403.12 308.90,401.90 C309.40,403.00 311.17,404.85 311.90,408.50 C312.63,412.15 312.82,417.72 313.30,423.80 C313.78,429.88 314.55,441.47 314.80,445.00 C315.03,442.20 315.60,434.17 316.20,428.20 C316.80,422.23 317.78,414.80 318.40,409.20 C319.02,403.60 319.58,397.38 319.90,394.60 C320.22,391.82 320.23,392.85 320.30,392.50" fill="none" stroke="#6262c6" stroke-width="1.5" stroke-linejoin="round"/>
<path d="M57.90,408.90 C58.78,408.47 61.55,407.72 63.20,406.30 C64.85,404.88 66.38,402.37 67.80,400.40 C69.22,398.43 70.72,395.63 71.70,394.50 C72.68,393.37 73.03,393.50 73.70,393.60 C74.37,393.70 74.93,393.75 75.70,395.10 C76.47,396.45 77.32,399.40 78.30,401.70 C79.28,404.00 80.50,406.35 81.60,408.90 C82.70,411.45 83.75,414.27 84.90,417.00 C86.05,419.73 87.30,422.70 88.50,425.30 C89.70,427.90 91.17,430.40 92.10,432.60 C93.03,434.80 93.33,436.43 94.10,438.50 C94.87,440.57 96.27,443.92 96.70,445.00 C97.47,444.68 99.43,443.87 101.30,443.10 C103.17,442.33 105.72,440.45 107.90,440.40 C110.08,440.35 112.22,441.92 114.40,442.80 C116.58,443.68 118.92,445.43 121.00,445.70 C123.08,445.97 124.93,444.88 126.90,444.40 C128.87,443.92 130.60,443.28 132.80,442.80 C135.00,442.32 137.80,441.50 140.10,441.50 C142.40,441.50 144.43,442.17 146.60,442.80 C148.77,443.43 151.02,444.82 153.10,445.30 C155.18,445.78 157.12,445.52 159.10,445.70 C161.08,445.88 162.93,446.52 165.00,446.40 C167.07,446.28 169.53,445.77 171.50,445.00 C173.47,444.23 175.05,443.03 176.80,441.80 C178.55,440.57 180.25,439.03 182.00,437.60 C183.75,436.17 185.53,434.70 187.30,433.20 C189.07,431.70 190.73,430.02 192.60,428.60 C194.47,427.18 197.02,425.43 198.50,424.70 C199.98,423.97 200.52,423.98 201.50,424.20 C202.48,424.42 203.48,424.60 204.40,426.00 C205.32,427.40 206.35,430.85 207.00,432.60 C207.65,434.35 208.08,435.85 208.30,436.50 C208.63,435.30 209.75,431.72 210.30,429.30 C210.85,426.88 211.27,424.42 211.60,422.00 C211.93,419.58 211.87,416.93 212.30,414.80 C212.73,412.67 213.58,410.17 214.20,409.20 C214.82,408.23 215.40,408.62 216.00,409.00 C216.60,409.38 217.10,409.98 217.80,411.50 C218.50,413.02 219.37,415.90 220.20,418.10 C221.03,420.30 221.82,422.62 222.80,424.70 C223.78,426.78 224.77,428.80 226.10,430.60 C227.43,432.40 229.15,433.95 230.80,435.50 C232.45,437.05 233.93,439.05 236.00,439.90 C238.07,440.75 241.02,439.88 243.20,440.60 C245.38,441.32 247.02,443.60 249.10,444.20 C251.18,444.80 253.63,444.20 255.70,444.20 C257.77,444.20 259.57,443.90 261.50,444.20 C263.43,444.50 266.33,445.70 267.30,446.00 C268.03,445.52 270.35,444.62 271.70,443.10 C273.05,441.58 274.18,440.12 275.40,436.90 C276.62,433.68 277.78,428.42 279.00,423.80 C280.22,419.18 281.72,412.48 282.70,409.20 C283.68,405.92 284.18,404.10 284.90,404.10 C285.62,404.10 286.40,406.17 287.00,409.20 C287.60,412.23 288.00,418.65 288.50,422.30 C289.00,425.95 289.52,428.17 290.00,431.10 C290.48,434.03 291.17,438.43 291.40,439.90 C291.77,439.40 292.87,439.10 293.60,436.90 C294.33,434.70 294.95,429.73 295.80,426.70 C296.65,423.67 297.60,421.87 298.70,418.70 C299.80,415.53 301.18,410.50 302.40,407.70 C303.62,404.90 304.78,402.50 306.00,401.90 C307.22,401.30 308.72,401.92 309.70,404.10 C310.68,406.28 311.17,411.23 311.90,415.00 C312.63,418.77 313.73,424.75 314.10,426.70 C314.33,425.97 314.90,425.47 315.50,422.30 C316.10,419.13 317.02,412.68 317.70,407.70 C318.38,402.72 319.22,395.27 319.60,392.40 C319.98,389.53 319.93,390.82 320.00,390.50" fill="none" stroke="#e67d3c" stroke-width="2.0" stroke-dasharray="2.4 4.3"/>
</g><g clip-path="url(#cd3)">
<path d="M57.00,514.70 C57.67,514.88 59.63,515.50 61.00,515.80 C62.37,516.10 63.52,516.78 65.20,516.50 C66.88,516.22 69.35,515.27 71.10,514.10 C72.85,512.93 74.17,511.47 75.70,509.50 C77.23,507.53 78.67,505.37 80.30,502.30 C81.93,499.23 83.75,494.60 85.50,491.10 C87.25,487.60 89.05,484.25 90.80,481.30 C92.55,478.35 94.25,475.60 96.00,473.40 C97.75,471.20 99.53,469.52 101.30,468.10 C103.07,466.68 104.85,465.43 106.60,464.90 C108.35,464.37 110.27,464.75 111.80,464.90 C113.33,465.05 114.27,465.15 115.80,465.80 C117.33,466.45 119.03,467.10 121.00,468.80 C122.97,470.50 125.40,473.27 127.60,476.00 C129.80,478.73 132.23,482.35 134.20,485.20 C136.17,488.05 137.55,490.25 139.40,493.10 C141.25,495.95 143.45,499.67 145.30,502.30 C147.15,504.93 148.53,506.97 150.50,508.90 C152.47,510.83 154.80,512.77 157.10,513.90 C159.40,515.03 161.90,515.55 164.30,515.70 C166.70,515.85 168.98,515.62 171.50,514.80 C174.02,513.98 176.77,512.45 179.40,510.80 C182.03,509.15 184.67,506.75 187.30,504.90 C189.93,503.05 192.57,501.45 195.20,499.70 C197.83,497.95 200.47,496.27 203.10,494.40 C205.73,492.53 208.38,490.68 211.00,488.50 C213.62,486.32 216.40,483.20 218.80,481.30 C221.20,479.40 223.63,477.95 225.40,477.10 C227.17,476.25 228.00,475.98 229.40,476.20 C230.80,476.42 232.10,477.07 233.80,478.40 C235.50,479.73 237.67,481.53 239.60,484.20 C241.53,486.87 243.45,490.50 245.40,494.40 C247.35,498.30 249.58,503.95 251.30,507.60 C253.02,511.25 254.53,514.37 255.70,516.30 C256.87,518.23 257.87,518.72 258.30,519.20 C258.83,517.98 260.00,515.05 261.50,511.90 C263.00,508.75 265.35,503.22 267.30,500.30 C269.25,497.38 271.13,495.87 273.20,494.40 C275.27,492.93 277.52,491.50 279.70,491.50 C281.88,491.50 283.98,492.93 286.30,494.40 C288.62,495.87 291.17,498.23 293.60,500.30 C296.03,502.37 298.47,504.62 300.90,506.80 C303.33,508.98 306.00,511.45 308.20,513.40 C310.40,515.35 312.27,517.28 314.10,518.50 C315.93,519.72 317.80,520.30 319.20,520.70 C320.60,521.10 321.95,520.87 322.50,520.90" fill="none" stroke="#9a9ae2" stroke-width="1.5" stroke-linejoin="round"/>
<path d="M57.60,515.20 C58.87,515.47 62.95,516.80 65.20,516.80 C67.45,516.80 69.35,516.35 71.10,515.20 C72.85,514.05 74.28,511.83 75.70,509.90 C77.12,507.97 78.40,505.70 79.60,503.60 C80.80,501.50 81.80,499.45 82.90,497.30 C84.00,495.15 85.10,492.82 86.20,490.70 C87.30,488.58 88.40,486.50 89.50,484.60 C90.60,482.70 91.72,480.95 92.80,479.30 C93.88,477.65 94.70,476.33 96.00,474.70 C97.30,473.07 98.62,470.82 100.60,469.50 C102.58,468.18 105.60,467.10 107.90,466.80 C110.20,466.50 112.22,466.93 114.40,467.70 C116.58,468.47 119.13,470.02 121.00,471.40 C122.87,472.78 124.07,474.35 125.60,476.00 C127.13,477.65 128.67,479.55 130.20,481.30 C131.73,483.05 133.37,484.87 134.80,486.50 C136.23,488.13 137.28,489.35 138.80,491.10 C140.32,492.85 142.28,495.30 143.90,497.00 C145.52,498.70 146.85,499.87 148.50,501.30 C150.15,502.73 151.82,504.33 153.80,505.60 C155.78,506.87 158.22,508.18 160.40,508.90 C162.58,509.62 164.72,509.90 166.90,509.90 C169.08,509.90 171.30,509.47 173.50,508.90 C175.70,508.33 177.92,507.38 180.10,506.50 C182.28,505.62 184.52,504.63 186.60,503.60 C188.68,502.57 190.62,501.40 192.60,500.30 C194.58,499.20 196.65,498.20 198.50,497.00 C200.35,495.80 202.07,494.37 203.70,493.10 C205.33,491.83 206.65,490.82 208.30,489.40 C209.95,487.98 211.85,486.17 213.60,484.60 C215.35,483.03 216.83,481.38 218.80,480.00 C220.77,478.62 223.27,476.82 225.40,476.30 C227.53,475.78 229.48,476.07 231.60,476.90 C233.72,477.73 236.17,478.98 238.10,481.30 C240.03,483.62 241.62,487.63 243.20,490.80 C244.78,493.97 246.25,497.02 247.60,500.30 C248.95,503.58 250.08,507.58 251.30,510.50 C252.52,513.42 253.95,516.30 254.90,517.80 C255.85,519.30 256.65,519.22 257.00,519.50 C257.38,518.73 258.30,516.88 259.30,514.90 C260.30,512.92 261.42,510.40 263.00,507.60 C264.58,504.80 266.87,500.50 268.80,498.10 C270.73,495.70 272.53,494.10 274.60,493.20 C276.67,492.30 279.00,492.25 281.20,492.70 C283.40,493.15 285.85,494.77 287.80,495.90 C289.75,497.03 291.20,498.05 292.90,499.50 C294.60,500.95 296.42,503.02 298.00,504.60 C299.58,506.18 300.82,507.28 302.40,509.00 C303.98,510.72 305.80,513.20 307.50,514.90 C309.20,516.60 310.78,518.23 312.60,519.20 C314.42,520.17 316.83,520.42 318.40,520.70 C319.97,520.98 321.40,520.87 322.00,520.90" fill="none" stroke="#f0a875" stroke-width="2.0" stroke-dasharray="2.4 4.3"/>
</g>
<rect x="406.60" y="299.30" width="267.90" height="221.90" fill="none" stroke="#1f1c1d" stroke-width="1.50"/>
<line x1="406.60" y1="499.01" x2="408.90" y2="499.01" stroke="#1f1c1d" stroke-width="1.10"/>
<line x1="406.60" y1="476.82" x2="410.80" y2="476.82" stroke="#1f1c1d" stroke-width="1.10"/>
<line x1="406.60" y1="454.63" x2="408.90" y2="454.63" stroke="#1f1c1d" stroke-width="1.10"/>
<line x1="406.60" y1="432.44" x2="410.80" y2="432.44" stroke="#1f1c1d" stroke-width="1.10"/>
<line x1="406.60" y1="410.25" x2="408.90" y2="410.25" stroke="#1f1c1d" stroke-width="1.10"/>
<line x1="406.60" y1="388.06" x2="410.80" y2="388.06" stroke="#1f1c1d" stroke-width="1.10"/>
<line x1="406.60" y1="365.87" x2="408.90" y2="365.87" stroke="#1f1c1d" stroke-width="1.10"/>
<line x1="406.60" y1="343.68" x2="410.80" y2="343.68" stroke="#1f1c1d" stroke-width="1.10"/>
<line x1="406.60" y1="321.49" x2="408.90" y2="321.49" stroke="#1f1c1d" stroke-width="1.10"/>
<line x1="433.39" y1="521.20" x2="433.39" y2="518.90" stroke="#1f1c1d" stroke-width="1.10"/>
<line x1="460.18" y1="521.20" x2="460.18" y2="517.20" stroke="#1f1c1d" stroke-width="1.10"/>
<line x1="486.97" y1="521.20" x2="486.97" y2="518.90" stroke="#1f1c1d" stroke-width="1.10"/>
<line x1="513.76" y1="521.20" x2="513.76" y2="517.20" stroke="#1f1c1d" stroke-width="1.10"/>
<line x1="540.55" y1="521.20" x2="540.55" y2="518.90" stroke="#1f1c1d" stroke-width="1.10"/>
<line x1="567.34" y1="521.20" x2="567.34" y2="517.20" stroke="#1f1c1d" stroke-width="1.10"/>
<line x1="594.13" y1="521.20" x2="594.13" y2="518.90" stroke="#1f1c1d" stroke-width="1.10"/>
<line x1="620.92" y1="521.20" x2="620.92" y2="517.20" stroke="#1f1c1d" stroke-width="1.10"/>
<line x1="647.71" y1="521.20" x2="647.71" y2="518.90" stroke="#1f1c1d" stroke-width="1.10"/>
<text x="401.20" y="525.65" font-family='"Liberation Sans", sans-serif' font-size="12.80" font-weight="normal" fill="#1f1c1d" text-anchor="end" textLength="17.40" lengthAdjust="spacingAndGlyphs"  stroke="#1f1c1d" stroke-width="0.28">0.0</text>
<text x="401.20" y="481.27" font-family='"Liberation Sans", sans-serif' font-size="12.80" font-weight="normal" fill="#1f1c1d" text-anchor="end" textLength="17.40" lengthAdjust="spacingAndGlyphs"  stroke="#1f1c1d" stroke-width="0.28">0.2</text>
<text x="401.20" y="436.89" font-family='"Liberation Sans", sans-serif' font-size="12.80" font-weight="normal" fill="#1f1c1d" text-anchor="end" textLength="17.40" lengthAdjust="spacingAndGlyphs"  stroke="#1f1c1d" stroke-width="0.28">0.4</text>
<text x="401.20" y="392.51" font-family='"Liberation Sans", sans-serif' font-size="12.80" font-weight="normal" fill="#1f1c1d" text-anchor="end" textLength="17.40" lengthAdjust="spacingAndGlyphs"  stroke="#1f1c1d" stroke-width="0.28">0.6</text>
<text x="401.20" y="348.13" font-family='"Liberation Sans", sans-serif' font-size="12.80" font-weight="normal" fill="#1f1c1d" text-anchor="end" textLength="17.40" lengthAdjust="spacingAndGlyphs"  stroke="#1f1c1d" stroke-width="0.28">0.8</text>
<text x="401.20" y="303.75" font-family='"Liberation Sans", sans-serif' font-size="12.80" font-weight="normal" fill="#1f1c1d" text-anchor="end" textLength="17.40" lengthAdjust="spacingAndGlyphs"  stroke="#1f1c1d" stroke-width="0.28">1.0</text>
<text x="403.30" y="536.60" font-family='"Liberation Sans", sans-serif' font-size="12.00" font-weight="normal" fill="#1f1c1d" text-anchor="start" textLength="6.60" lengthAdjust="spacingAndGlyphs"  stroke="#1f1c1d" stroke-width="0.28">0</text>
<text x="453.38" y="536.60" font-family='"Liberation Sans", sans-serif' font-size="12.00" font-weight="normal" fill="#1f1c1d" text-anchor="start" textLength="13.60" lengthAdjust="spacingAndGlyphs"  stroke="#1f1c1d" stroke-width="0.28">10</text>
<text x="506.96" y="536.60" font-family='"Liberation Sans", sans-serif' font-size="12.00" font-weight="normal" fill="#1f1c1d" text-anchor="start" textLength="13.60" lengthAdjust="spacingAndGlyphs"  stroke="#1f1c1d" stroke-width="0.28">20</text>
<text x="560.54" y="536.60" font-family='"Liberation Sans", sans-serif' font-size="12.00" font-weight="normal" fill="#1f1c1d" text-anchor="start" textLength="13.60" lengthAdjust="spacingAndGlyphs"  stroke="#1f1c1d" stroke-width="0.28">30</text>
<text x="614.12" y="536.60" font-family='"Liberation Sans", sans-serif' font-size="12.00" font-weight="normal" fill="#1f1c1d" text-anchor="start" textLength="13.60" lengthAdjust="spacingAndGlyphs"  stroke="#1f1c1d" stroke-width="0.28">40</text>
<text x="667.70" y="536.60" font-family='"Liberation Sans", sans-serif' font-size="12.00" font-weight="normal" fill="#1f1c1d" text-anchor="start" textLength="13.60" lengthAdjust="spacingAndGlyphs"  stroke="#1f1c1d" stroke-width="0.28">50</text>
<text x="506.90" y="555.70" font-family='"Liberation Sans", sans-serif' font-size="16.10" font-weight="normal" fill="#1f1c1d" text-anchor="start" textLength="67.40" lengthAdjust="spacingAndGlyphs"  stroke="#1f1c1d" stroke-width="0.28">Time (ns)</text>
<text transform="translate(373.3,448.1) rotate(-90)" x="0" y="0" font-family='"Liberation Sans", sans-serif' font-size="15.4" fill="#1f1c1d" stroke="#1f1c1d" stroke-width="0.28" textLength="76.6" lengthAdjust="spacingAndGlyphs">Population</text>
<path d="M406.60,521.20 L407.30,519.60 L414.10,504.40 L423.10,486.20 L432.20,469.40 L441.30,455.10 L450.30,442.20 L459.40,429.20 L468.50,417.60 L478.80,405.90 L489.20,394.20 L498.30,386.30 L508.90,375.90 L517.90,368.75 L526.80,361.60 L535.70,355.70 L544.60,350.90 L553.60,346.10 L562.50,342.00 L571.40,338.40 L580.40,335.20 L589.30,332.10 L596.00,330.00 L607.40,326.60 L622.30,321.70 L634.70,319.20 L647.10,316.70 L660.80,314.60 L674.40,312.60" fill="none" stroke="#e0692a" stroke-width="1.8" stroke-linejoin="round"/>
<path d="M406.60,521.20 L432.60,519.10 L460.20,516.10 L490.80,514.00 L505.10,512.00 L519.40,510.90 L540.00,510.00 L566.60,508.40 L591.10,505.90 L611.50,504.30 L621.70,502.90 L646.30,501.20 L674.40,499.60" fill="none" stroke="#2e2e82" stroke-width="1.8" stroke-linejoin="round"/>
<line x1="546.6" y1="383.7" x2="569.4" y2="383.7" stroke="#e0692a" stroke-width="1.6"/>
<line x1="546.6" y1="400.4" x2="569.4" y2="400.4" stroke="#2e2e82" stroke-width="1.6"/>
<text x="577.60" y="388.60" font-family='"Liberation Sans", sans-serif' font-size="13.70" font-weight="normal" fill="#333" text-anchor="start" textLength="55.60" lengthAdjust="spacingAndGlyphs"  stroke="#333" stroke-width="0.28">Defective</text>
<text x="577.60" y="405.10" font-family='"Liberation Sans", sans-serif' font-size="13.70" font-weight="normal" fill="#333" text-anchor="start" textLength="84.60" lengthAdjust="spacingAndGlyphs"  stroke="#333" stroke-width="0.28">Stoichiometric</text>
<text x="-0.90" y="19.00" font-family='"Liberation Sans", sans-serif' font-size="21.00" font-weight="bold" fill="#000" text-anchor="start" >a</text>
<text x="190.60" y="19.00" font-family='"Liberation Sans", sans-serif' font-size="21.00" font-weight="bold" fill="#000" text-anchor="start" >b</text>
<text x="382.20" y="19.30" font-family='"Liberation Sans", sans-serif' font-size="21.00" font-weight="bold" fill="#000" text-anchor="start" >c</text>
<text x="-0.80" y="295.70" font-family='"Liberation Sans", sans-serif' font-size="21.00" font-weight="bold" fill="#000" text-anchor="start" >d</text>
<text x="352.60" y="295.90" font-family='"Liberation Sans", sans-serif' font-size="21.00" font-weight="bold" fill="#000" text-anchor="start" >e</text>
</svg></body></html>
